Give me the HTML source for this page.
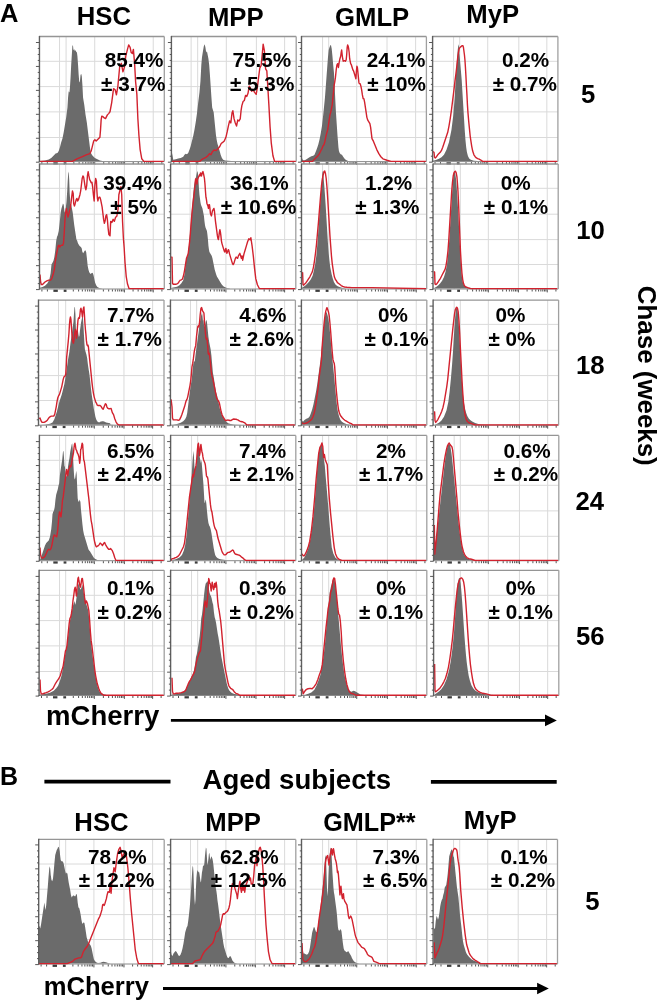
<!DOCTYPE html><html><head><meta charset="utf-8"><style>html,body{margin:0;padding:0;background:#fff;}svg{display:block;will-change:transform;}text{font-family:"Liberation Sans",sans-serif;font-weight:bold;fill:#000;}</style></head><body>
<svg width="660" height="1001" viewBox="0 0 660 1001">
<rect width="660" height="1001" fill="#fff"/>
<defs>
<clipPath id="c0"><rect x="39.45" y="36.50" width="124.85" height="125.70"/></clipPath>
<clipPath id="c1"><rect x="171.40" y="36.50" width="124.80" height="125.70"/></clipPath>
<clipPath id="c2"><rect x="301.50" y="36.50" width="124.90" height="125.70"/></clipPath>
<clipPath id="c3"><rect x="432.60" y="36.50" width="125.30" height="125.70"/></clipPath>
<clipPath id="c4"><rect x="39.50" y="164.00" width="124.80" height="125.60"/></clipPath>
<clipPath id="c5"><rect x="170.60" y="164.00" width="125.20" height="125.60"/></clipPath>
<clipPath id="c6"><rect x="301.50" y="164.00" width="125.20" height="125.60"/></clipPath>
<clipPath id="c7"><rect x="433.00" y="164.00" width="125.20" height="125.60"/></clipPath>
<clipPath id="c8"><rect x="38.50" y="300.10" width="125.50" height="125.70"/></clipPath>
<clipPath id="c9"><rect x="170.45" y="300.10" width="124.95" height="125.70"/></clipPath>
<clipPath id="c10"><rect x="301.40" y="300.10" width="125.40" height="125.70"/></clipPath>
<clipPath id="c11"><rect x="433.10" y="300.10" width="125.50" height="125.70"/></clipPath>
<clipPath id="c12"><rect x="39.40" y="435.40" width="124.80" height="125.90"/></clipPath>
<clipPath id="c13"><rect x="170.60" y="435.40" width="125.20" height="125.90"/></clipPath>
<clipPath id="c14"><rect x="301.50" y="435.40" width="125.30" height="125.90"/></clipPath>
<clipPath id="c15"><rect x="433.60" y="435.40" width="125.20" height="125.90"/></clipPath>
<clipPath id="c16"><rect x="39.10" y="570.30" width="125.10" height="125.80"/></clipPath>
<clipPath id="c17"><rect x="170.60" y="570.30" width="125.20" height="125.80"/></clipPath>
<clipPath id="c18"><rect x="301.50" y="570.30" width="125.30" height="125.80"/></clipPath>
<clipPath id="c19"><rect x="433.60" y="570.30" width="125.20" height="125.80"/></clipPath>
<clipPath id="c20"><rect x="38.70" y="839.40" width="125.50" height="125.20"/></clipPath>
<clipPath id="c21"><rect x="170.60" y="839.40" width="125.20" height="125.20"/></clipPath>
<clipPath id="c22"><rect x="301.50" y="839.40" width="125.30" height="125.20"/></clipPath>
<clipPath id="c23"><rect x="433.10" y="839.40" width="124.40" height="125.20"/></clipPath>
</defs>
<path d="M59.55 36.50V161.60M66.09 36.50V161.60M94.73 36.50V161.60M124.59 36.50V161.60M153.23 36.50V161.60M39.45 61.30H164.30M39.45 86.60H164.30M39.45 111.90H164.30M39.45 137.50H164.30" stroke="#dadada" stroke-width="1" fill="none"/>
<path d="M39.50 161.20L39.50 161.20L40.00 161.03L44.99 160.41L48.73 159.54L51.23 157.91L53.73 155.42L55.60 153.55L57.47 152.92L58.72 151.05L59.96 147.31L61.21 142.32L62.46 138.57L63.71 132.34L64.96 124.85L66.20 117.36L67.45 107.38L68.07 97.40L68.70 91.16L69.45 92.41L69.95 87.42L70.57 77.43L71.19 64.96L71.82 54.97L72.44 44.99L73.07 46.24L73.44 49.98L74.31 49.36L74.94 51.23L75.56 49.98L76.19 51.85L76.93 52.48L77.43 56.22L78.06 64.96L78.68 74.94L79.30 82.42L79.93 81.18L80.55 74.94L81.18 73.69L81.80 76.19L82.42 84.92L83.05 97.40L83.67 101.14L84.30 104.88L84.92 109.88L85.54 114.87L86.17 118.61L86.79 122.35L87.42 127.34L88.04 132.34L88.66 137.33L89.29 142.32L89.91 147.31L90.53 151.05L91.16 153.55L92.41 155.42L94.90 157.91L97.40 159.16L99.89 160.41L102.39 161.03L104.55 161.20L104.55 161.20Z" fill="#6b6b6b" clip-path="url(#c0)"/>
<path d="M38.75 161.60H164.30" stroke="#8a8a8a" stroke-width="1"/>
<path d="M39.50 161.40L40.00 161.40L68.70 161.40L72.44 161.40L77.43 158.54L82.42 156.67L86.17 154.80L89.91 153.55L91.16 151.05L92.41 146.06L93.65 141.07L94.90 139.82L96.15 141.07L97.40 139.82L98.65 138.57L99.89 137.33L100.52 129.84L101.14 119.86L101.76 116.11L103.01 116.74L104.26 117.99L105.51 118.61L106.13 117.36L107.38 114.87L108.63 113.62L110.00 111.75L111.70 102.55L113.55 88.64L115.18 89.86L116.41 94.77L117.84 86.59L119.68 66.75L121.32 63.27L122.95 71.86L124.39 67.36L125.82 55.91L127.45 49.36L128.68 44.86L130.11 47.32L131.14 52.43L132.36 53.45L133.39 49.36L134.61 63.68L135.64 82.09L136.86 94.36L137.89 118.91L138.91 135.27L140.14 149.59L141.77 158.80L143.82 161.40L164.27 161.40" fill="none" stroke="#d2222e" stroke-width="1.4" stroke-linejoin="round" clip-path="url(#c0)"/>
<path d="M39.45 36.50H164.30" stroke="#959595" stroke-width="1.3"/>
<path d="M164.30 36.50V161.60" stroke="#a0a0a0" stroke-width="1.3"/>
<path d="M39.45 35.90V162.00" stroke="#5f5f5f" stroke-width="1.4"/>
<path d="M35.95 162.20H39.45M37.75 156.21H39.45M37.75 150.23H39.45M37.75 144.24H39.45M35.95 138.26H39.45M37.75 132.27H39.45M37.75 126.29H39.45M37.75 120.30H39.45M35.95 114.32H39.45M37.75 108.33H39.45M37.75 102.35H39.45M37.75 96.36H39.45M35.95 90.38H39.45M37.75 84.39H39.45M37.75 78.41H39.45M37.75 72.42H39.45M35.95 66.44H39.45M37.75 60.45H39.45M37.75 54.47H39.45M37.75 48.48H39.45M35.95 42.50H39.45" stroke="#505050" stroke-width="0.95"/>
<path d="M41.85 162.10V164.10M47.35 162.10V164.10M73.85 162.10V164.10M79.11 162.10V164.10M82.84 162.10V164.10M85.74 162.10V164.10M88.10 162.10V164.10M90.10 162.10V164.10M91.83 162.10V164.10M93.36 162.10V164.10M103.72 162.10V164.10M108.98 162.10V164.10M112.71 162.10V164.10M115.60 162.10V164.10M117.97 162.10V164.10M119.96 162.10V164.10M121.70 162.10V164.10M123.22 162.10V164.10M133.21 162.10V164.10M138.25 162.10V164.10M141.83 162.10V164.10M144.61 162.10V164.10M146.87 162.10V164.10M148.79 162.10V164.10M150.45 162.10V164.10M151.92 162.10V164.10M161.85 162.10V164.10M94.73 162.10V165.00M124.59 162.10V165.00M153.23 162.10V165.00" stroke="#333" stroke-width="0.85"/>
<rect x="53.35" y="162.30" width="4.40" height="2.2" fill="#1a1a1a" opacity="0.85"/><rect x="63.65" y="162.30" width="2.80" height="2.2" fill="#1a1a1a" opacity="0.85"/>
<text x="104.81" y="66.75" font-size="20.7" >85.4%</text>
<text x="101.10" y="90.68" font-size="20.7" >± 3.7%</text>
<path d="M191.14 36.50V161.60M197.68 36.50V161.60M226.32 36.50V161.60M256.39 36.50V161.60M284.61 36.50V161.60M171.40 61.30H296.20M171.40 86.60H296.20M171.40 111.90H296.20M171.40 137.50H296.20" stroke="#dadada" stroke-width="1" fill="none"/>
<path d="M171.50 161.20L171.50 157.77L172.00 152.92L172.62 156.04L173.25 159.79L175.74 159.16L178.24 158.54L180.73 157.91L183.23 156.67L184.48 154.80L185.73 153.80L186.97 154.17L188.22 152.92L189.47 149.80L190.72 146.06L191.96 141.07L193.21 136.08L194.46 129.84L195.71 122.35L196.96 113.62L198.20 102.39L199.45 92.41L200.45 81.18L201.32 64.96L201.95 57.47L202.94 51.23L203.82 46.24L204.69 44.37L205.44 47.49L206.19 52.48L206.94 51.23L207.69 54.97L208.43 58.72L209.18 64.96L209.93 74.94L210.68 86.17L211.43 97.40L212.18 107.38L212.93 109.88L213.68 112.37L214.42 119.86L215.17 127.34L215.92 134.83L216.67 139.82L217.42 143.57L218.17 146.06L218.92 148.56L219.66 151.05L220.66 154.80L221.91 157.91L223.16 159.79L225.03 160.41L228.15 160.78L234.39 161.20L234.39 161.20Z" fill="#6b6b6b" clip-path="url(#c1)"/>
<path d="M170.70 161.60H296.20" stroke="#8a8a8a" stroke-width="1"/>
<path d="M171.50 161.40L199.73 161.40L202.80 158.80L205.86 157.36L207.91 155.73L209.55 153.68L210.98 154.70L212.41 151.64L214.05 150.00L216.09 150.61L218.14 148.57L219.77 146.52L221.20 143.45L222.64 142.43L224.27 141.00L225.91 137.32L227.34 131.18L228.36 126.07L229.59 120.95L230.82 123.00L232.05 112.77L232.86 110.73L234.09 118.91L235.32 123.00L236.55 126.07L237.77 119.93L239.00 120.95L240.23 118.91L241.05 110.73L241.86 105.61L243.09 101.52L244.32 100.50L245.55 95.39L246.77 96.41L248.00 93.34L249.23 86.18L250.45 88.23L251.68 91.30L252.91 89.25L254.55 92.32L256.18 94.36L257.41 87.20L258.64 76.98L259.86 67.77L261.09 65.73L262.32 53.45L263.14 44.25L264.36 50.39L265.59 68.80L266.82 70.84L267.64 84.14L268.86 104.59L270.09 127.09L271.32 143.45L272.95 155.73L274.59 161.40L277.45 161.40L296.27 161.40" fill="none" stroke="#d2222e" stroke-width="1.4" stroke-linejoin="round" clip-path="url(#c1)"/>
<path d="M171.40 36.50H296.20" stroke="#959595" stroke-width="1.3"/>
<path d="M296.20 36.50V161.60" stroke="#a0a0a0" stroke-width="1.3"/>
<path d="M171.40 35.90V162.00" stroke="#5f5f5f" stroke-width="1.4"/>
<path d="M167.90 162.20H171.40M169.70 156.21H171.40M169.70 150.23H171.40M169.70 144.24H171.40M167.90 138.26H171.40M169.70 132.27H171.40M169.70 126.29H171.40M169.70 120.30H171.40M167.90 114.32H171.40M169.70 108.33H171.40M169.70 102.35H171.40M169.70 96.36H171.40M167.90 90.38H171.40M169.70 84.39H171.40M169.70 78.41H171.40M169.70 72.42H171.40M167.90 66.44H171.40M169.70 60.45H171.40M169.70 54.47H171.40M169.70 48.48H171.40M167.90 42.50H171.40" stroke="#505050" stroke-width="0.95"/>
<path d="M173.80 162.10V164.10M179.30 162.10V164.10M205.30 162.10V164.10M210.60 162.10V164.10M214.35 162.10V164.10M217.27 162.10V164.10M219.65 162.10V164.10M221.66 162.10V164.10M223.40 162.10V164.10M224.94 162.10V164.10M235.37 162.10V164.10M240.66 162.10V164.10M244.42 162.10V164.10M247.33 162.10V164.10M249.72 162.10V164.10M251.73 162.10V164.10M253.47 162.10V164.10M255.01 162.10V164.10M264.88 162.10V164.10M269.85 162.10V164.10M273.38 162.10V164.10M276.12 162.10V164.10M278.35 162.10V164.10M280.24 162.10V164.10M281.88 162.10V164.10M283.32 162.10V164.10M293.11 162.10V164.10M226.32 162.10V165.00M256.39 162.10V165.00M284.61 162.10V165.00" stroke="#333" stroke-width="0.85"/>
<rect x="185.30" y="162.30" width="4.40" height="2.2" fill="#1a1a1a" opacity="0.85"/><rect x="195.60" y="162.30" width="2.80" height="2.2" fill="#1a1a1a" opacity="0.85"/>
<text x="232.62" y="66.75" font-size="20.7" >75.5%</text>
<text x="230.03" y="90.68" font-size="20.7" >± 5.3%</text>
<path d="M322.57 36.50V161.60M328.70 36.50V161.60M356.73 36.50V161.60M387.00 36.50V161.60M415.64 36.50V161.60M301.50 61.30H426.40M301.50 86.60H426.40M301.50 111.90H426.40M301.50 137.50H426.40" stroke="#dadada" stroke-width="1" fill="none"/>
<path d="M301.50 161.20L301.50 158.80L302.00 157.91L302.62 159.79L303.87 160.41L305.74 159.79L307.61 158.54L309.49 157.29L311.36 156.29L313.23 155.79L314.48 154.80L315.73 151.68L316.97 148.56L318.22 144.81L319.47 139.82L320.72 133.58L321.96 126.10L322.96 117.36L323.96 107.38L324.96 97.40L325.71 87.42L326.46 77.43L327.20 67.45L327.95 57.47L328.70 49.98L329.45 47.49L330.20 45.61L330.95 44.99L331.70 48.73L332.45 56.22L333.19 64.96L333.94 72.44L334.44 81.18L334.94 92.41L335.44 102.39L335.94 112.37L336.44 119.86L336.94 127.34L337.44 134.83L337.94 141.07L338.43 147.31L338.93 151.05L339.68 152.92L340.68 154.17L341.93 154.80L343.18 156.67L344.42 158.54L345.67 159.79L347.54 160.78L349.42 161.20L351.91 161.20L356.32 161.20L356.32 161.20Z" fill="#6b6b6b" clip-path="url(#c2)"/>
<path d="M300.80 161.60H426.40" stroke="#8a8a8a" stroke-width="1"/>
<path d="M301.50 161.40L302.00 161.40L304.50 161.40L306.99 161.40L308.86 161.40L310.73 161.40L312.61 161.40L314.48 159.16L315.73 157.91L316.97 156.67L318.22 155.42L319.47 153.55L320.72 151.05L321.96 148.56L322.96 146.06L323.96 144.81L324.71 142.32L325.46 138.57L326.21 134.83L326.96 132.34L327.70 129.84L328.45 124.85L329.20 119.86L329.95 114.87L330.70 112.37L331.45 108.63L332.20 104.88L332.94 97.40L333.69 89.91L334.19 84.92L334.69 82.42L335.44 77.43L336.19 69.95L336.94 64.96L337.69 63.71L338.43 67.45L339.18 62.46L339.93 58.72L340.68 56.22L341.18 52.48L341.68 49.98L342.18 54.97L342.68 58.72L343.18 61.21L343.93 60.59L344.67 60.59L345.42 61.21L346.17 59.96L346.67 54.97L347.17 47.49L347.67 44.99L348.17 46.24L348.67 48.73L349.17 52.48L349.66 58.72L350.16 61.21L350.66 63.71L351.41 64.96L352.16 67.45L352.91 69.95L353.66 71.19L354.41 73.69L355.16 76.19L355.90 78.68L356.40 71.19L356.90 66.20L357.40 67.45L357.90 72.44L358.40 77.43L358.90 82.42L359.40 83.67L360.15 83.67L360.89 86.17L361.64 89.91L362.39 94.90L363.14 98.65L363.89 98.65L364.64 102.39L365.39 107.38L366.14 112.37L366.88 117.36L367.63 119.86L368.38 121.11L369.13 122.35L369.88 123.60L370.63 127.34L371.38 133.58L372.00 138.57L373.50 141.41L374.73 144.48L376.77 149.59L378.82 153.68L380.86 156.75L382.91 158.80L387.00 160.23L391.09 161.40L399.27 161.40L426.27 161.40" fill="none" stroke="#d2222e" stroke-width="1.4" stroke-linejoin="round" clip-path="url(#c2)"/>
<path d="M301.50 36.50H426.40" stroke="#959595" stroke-width="1.3"/>
<path d="M426.40 36.50V161.60" stroke="#a0a0a0" stroke-width="1.3"/>
<path d="M301.50 35.90V162.00" stroke="#5f5f5f" stroke-width="1.4"/>
<path d="M298.00 162.20H301.50M299.80 156.21H301.50M299.80 150.23H301.50M299.80 144.24H301.50M298.00 138.26H301.50M299.80 132.27H301.50M299.80 126.29H301.50M299.80 120.30H301.50M298.00 114.32H301.50M299.80 108.33H301.50M299.80 102.35H301.50M299.80 96.36H301.50M298.00 90.38H301.50M299.80 84.39H301.50M299.80 78.41H301.50M299.80 72.42H301.50M298.00 66.44H301.50M299.80 60.45H301.50M299.80 54.47H301.50M299.80 48.48H301.50M298.00 42.50H301.50" stroke="#505050" stroke-width="0.95"/>
<path d="M303.90 162.10V164.10M309.40 162.10V164.10M335.57 162.10V164.10M340.90 162.10V164.10M344.68 162.10V164.10M347.61 162.10V164.10M350.01 162.10V164.10M352.04 162.10V164.10M353.79 162.10V164.10M355.34 162.10V164.10M365.84 162.10V164.10M371.17 162.10V164.10M374.95 162.10V164.10M377.89 162.10V164.10M380.28 162.10V164.10M382.31 162.10V164.10M384.07 162.10V164.10M385.61 162.10V164.10M395.62 162.10V164.10M400.66 162.10V164.10M404.24 162.10V164.10M407.02 162.10V164.10M409.28 162.10V164.10M411.20 162.10V164.10M412.86 162.10V164.10M414.33 162.10V164.10M424.26 162.10V164.10M356.73 162.10V165.00M387.00 162.10V165.00M415.64 162.10V165.00" stroke="#333" stroke-width="0.85"/>
<rect x="315.40" y="162.30" width="4.40" height="2.2" fill="#1a1a1a" opacity="0.85"/><rect x="325.70" y="162.30" width="2.80" height="2.2" fill="#1a1a1a" opacity="0.85"/>
<text x="366.81" y="66.75" font-size="20.7" >24.1%</text>
<text x="367.32" y="90.68" font-size="20.7" >± 10%</text>
<path d="M453.57 36.50V161.60M459.70 36.50V161.60M487.73 36.50V161.60M518.82 36.50V161.60M546.84 36.50V161.60M432.60 61.30H557.90M432.60 86.60H557.90M432.60 111.90H557.90M432.60 137.50H557.90" stroke="#dadada" stroke-width="1" fill="none"/>
<path d="M432.50 161.20L432.50 160.84L434.00 160.41L436.50 159.79L438.99 158.79L441.49 157.29L443.98 154.80L446.48 149.80L448.97 142.32L451.47 129.84L453.34 114.87L454.59 98.65L455.46 83.67L456.21 71.19L456.96 59.96L457.71 49.98L458.46 44.37L458.96 46.24L459.45 53.73L460.20 62.46L460.95 71.19L461.70 79.93L462.45 92.41L463.20 104.88L463.95 117.36L464.70 129.84L465.44 139.82L466.19 147.31L466.94 152.30L467.94 156.04L469.19 158.54L470.81 159.79L473.93 160.78L477.67 161.03L477.67 161.20Z" fill="#6b6b6b" clip-path="url(#c3)"/>
<path d="M431.90 161.60H557.90" stroke="#8a8a8a" stroke-width="1"/>
<path d="M432.91 151.64L434.00 152.30L434.50 157.29L435.25 157.91L436.50 156.67L437.74 154.80L438.99 153.55L440.24 152.30L441.49 150.43L442.73 147.31L443.98 143.57L445.23 139.82L446.48 136.08L447.73 132.34L448.97 126.10L450.22 118.61L451.47 109.88L452.72 99.89L453.96 89.91L454.96 81.18L455.96 73.69L456.96 64.96L457.71 57.47L458.46 52.48L459.20 48.73L459.95 47.49L460.70 46.86L461.45 46.24L462.20 45.61L462.95 45.61L463.45 47.49L463.95 51.23L464.45 54.97L464.94 59.96L465.44 67.45L465.94 76.19L466.44 86.17L466.94 94.90L467.44 104.88L467.94 112.37L468.69 121.11L469.44 128.59L470.19 136.08L470.93 141.07L471.68 146.06L472.68 151.05L473.93 154.80L475.18 156.67L476.42 157.91L477.67 158.54L479.17 159.16L480.79 160.04L482.66 161.40L485.16 161.40L488.90 161.40L504.00 161.40L557.27 161.40" fill="none" stroke="#d2222e" stroke-width="1.4" stroke-linejoin="round" clip-path="url(#c3)"/>
<path d="M432.60 36.50H557.90" stroke="#959595" stroke-width="1.3"/>
<path d="M557.90 36.50V161.60" stroke="#a0a0a0" stroke-width="1.3"/>
<path d="M432.60 35.90V162.00" stroke="#5f5f5f" stroke-width="1.4"/>
<path d="M429.10 162.20H432.60M430.90 156.21H432.60M430.90 150.23H432.60M430.90 144.24H432.60M429.10 138.26H432.60M430.90 132.27H432.60M430.90 126.29H432.60M430.90 120.30H432.60M429.10 114.32H432.60M430.90 108.33H432.60M430.90 102.35H432.60M430.90 96.36H432.60M429.10 90.38H432.60M430.90 84.39H432.60M430.90 78.41H432.60M430.90 72.42H432.60M429.10 66.44H432.60M430.90 60.45H432.60M430.90 54.47H432.60M430.90 48.48H432.60M429.10 42.50H432.60" stroke="#505050" stroke-width="0.95"/>
<path d="M435.00 162.10V164.10M440.50 162.10V164.10M466.00 162.10V164.10M471.47 162.10V164.10M475.35 162.10V164.10M478.37 162.10V164.10M480.83 162.10V164.10M482.91 162.10V164.10M484.71 162.10V164.10M486.30 162.10V164.10M497.09 162.10V164.10M502.56 162.10V164.10M506.45 162.10V164.10M509.46 162.10V164.10M511.92 162.10V164.10M514.00 162.10V164.10M515.81 162.10V164.10M517.40 162.10V164.10M527.25 162.10V164.10M532.19 162.10V164.10M535.69 162.10V164.10M538.41 162.10V164.10M540.62 162.10V164.10M542.50 162.10V164.10M544.13 162.10V164.10M545.56 162.10V164.10M555.28 162.10V164.10M487.73 162.10V165.00M518.82 162.10V165.00M546.84 162.10V165.00" stroke="#333" stroke-width="0.85"/>
<rect x="446.50" y="162.30" width="4.40" height="2.2" fill="#1a1a1a" opacity="0.85"/><rect x="456.80" y="162.30" width="2.80" height="2.2" fill="#1a1a1a" opacity="0.85"/>
<text x="501.97" y="66.75" font-size="20.7" >0.2%</text>
<text x="492.67" y="90.68" font-size="20.7" >± 0.7%</text>
<path d="M59.55 164.00V289.00M65.68 164.00V289.00M94.32 164.00V289.00M124.39 164.00V289.00M153.23 164.00V289.00M39.50 188.30H164.30M39.50 214.20H164.30M39.50 239.60H164.30M39.50 264.50H164.30" stroke="#dadada" stroke-width="1" fill="none"/>
<path d="M39.50 288.60L39.50 288.45L40.00 287.66L42.50 287.03L44.99 285.79L47.49 283.29L49.36 279.55L50.61 273.31L51.48 264.57L52.48 262.70L53.48 260.83L54.35 257.09L55.22 250.85L56.22 240.87L56.97 237.12L57.72 235.25L58.72 230.88L59.71 222.15L60.71 212.17L61.46 208.42L62.21 205.93L62.96 203.43L63.71 204.68L64.46 210.92L65.20 213.42L65.70 208.42L66.45 202.19L67.20 190.96L67.70 180.97L68.20 173.49L68.70 171.61L69.20 179.73L69.70 193.45L70.45 203.43L71.19 204.68L71.94 208.42L72.69 212.17L73.44 218.41L74.19 224.65L74.94 229.64L75.69 234.63L76.43 239.62L77.18 240.87L77.93 243.36L78.68 244.61L79.43 245.86L80.18 246.48L80.93 247.11L81.68 248.35L82.42 252.10L83.17 253.34L83.92 252.10L84.67 250.85L85.42 250.22L86.17 252.10L86.92 258.34L87.66 265.82L88.41 269.57L89.16 272.06L89.91 273.31L90.66 273.93L91.41 273.31L92.16 272.68L92.91 273.31L93.65 275.80L94.40 279.55L95.15 282.67L96.15 285.16L97.40 287.03L99.27 288.03L101.14 288.28L102.50 288.60L102.50 288.60Z" fill="#6b6b6b" clip-path="url(#c4)"/>
<path d="M38.80 289.00H164.30" stroke="#8a8a8a" stroke-width="1"/>
<path d="M40.00 274.56L40.62 282.04L41.25 284.54L42.50 284.54L43.74 283.29L44.99 282.04L46.86 280.80L48.73 280.17L50.61 280.17L51.85 278.30L53.10 274.56L54.35 269.57L55.22 262.08L56.22 255.84L57.22 250.85L58.22 245.86L58.97 245.23L59.71 247.11L60.46 245.86L61.46 245.23L62.71 245.23L63.46 243.36L64.21 233.38L64.96 219.65L65.70 212.17L66.45 208.42L67.20 213.42L67.95 217.16L68.70 214.66L69.45 210.92L70.20 208.42L70.94 203.43L71.69 197.19L72.44 190.96L73.19 193.45L73.69 203.43L74.44 205.93L75.19 203.43L76.19 199.69L76.93 198.44L77.68 200.94L78.43 199.69L79.18 197.19L79.93 194.70L80.68 190.96L81.43 184.72L82.17 178.48L82.92 175.98L83.67 177.23L84.42 182.22L85.17 187.21L85.92 189.71L86.67 185.96L87.42 175.98L88.16 171.61L88.91 175.98L89.66 179.73L90.41 180.97L91.16 182.84L91.91 182.22L92.66 187.21L93.40 194.70L94.15 200.94L94.90 184.72L95.65 178.48L96.40 180.97L96.90 190.96L97.40 198.44L97.90 200.94L98.40 198.44L99.14 197.19L99.89 197.19L100.64 199.69L101.39 203.43L102.14 207.18L102.89 213.42L103.64 219.65L104.39 223.40L105.13 220.90L105.88 215.91L106.63 214.66L107.38 219.65L108.13 228.39L108.88 234.63L110.00 235.88L110.68 221.36L111.91 222.39L113.14 219.32L114.36 221.36L115.59 217.27L116.82 216.25L118.05 209.09L118.86 194.77L120.09 189.66L120.91 186.59L121.73 194.77L122.55 221.36L123.36 237.73L124.18 247.95L125.00 262.27L126.23 276.59L127.45 283.75L129.09 288.80L133.18 288.80L164.27 288.80" fill="none" stroke="#d2222e" stroke-width="1.4" stroke-linejoin="round" clip-path="url(#c4)"/>
<path d="M39.50 164.00H164.30" stroke="#959595" stroke-width="1.3"/>
<path d="M164.30 164.00V289.00" stroke="#a0a0a0" stroke-width="1.3"/>
<path d="M39.50 163.40V289.40" stroke="#5f5f5f" stroke-width="1.4"/>
<path d="M36.00 289.60H39.50M37.80 283.62H39.50M37.80 277.63H39.50M37.80 271.65H39.50M36.00 265.66H39.50M37.80 259.68H39.50M37.80 253.69H39.50M37.80 247.71H39.50M36.00 241.72H39.50M37.80 235.74H39.50M37.80 229.75H39.50M37.80 223.77H39.50M36.00 217.78H39.50M37.80 211.80H39.50M37.80 205.81H39.50M37.80 199.83H39.50M36.00 193.84H39.50M37.80 187.86H39.50M37.80 181.87H39.50M37.80 175.89H39.50M36.00 169.90H39.50" stroke="#505050" stroke-width="0.95"/>
<path d="M41.90 289.50V291.50M47.40 289.50V291.50M73.30 289.50V291.50M78.60 289.50V291.50M82.35 289.50V291.50M85.27 289.50V291.50M87.65 289.50V291.50M89.66 289.50V291.50M91.40 289.50V291.50M92.94 289.50V291.50M103.37 289.50V291.50M108.66 289.50V291.50M112.42 289.50V291.50M115.33 289.50V291.50M117.72 289.50V291.50M119.73 289.50V291.50M121.47 289.50V291.50M123.01 289.50V291.50M133.07 289.50V291.50M138.15 289.50V291.50M141.75 289.50V291.50M144.55 289.50V291.50M146.83 289.50V291.50M148.76 289.50V291.50M150.43 289.50V291.50M151.91 289.50V291.50M161.91 289.50V291.50M94.32 289.50V292.40M124.39 289.50V292.40M153.23 289.50V292.40" stroke="#333" stroke-width="0.85"/>
<rect x="53.40" y="289.70" width="4.40" height="2.2" fill="#1a1a1a" opacity="0.85"/><rect x="63.70" y="289.70" width="2.80" height="2.2" fill="#1a1a1a" opacity="0.85"/>
<text x="103.18" y="190.27" font-size="20.7" >39.4%</text>
<text x="110.30" y="214.20" font-size="20.7" >± 5%</text>
<path d="M190.11 164.00V289.00M196.66 164.00V289.00M225.91 164.00V289.00M255.36 164.00V289.00M284.61 164.00V289.00M170.60 188.30H295.80M170.60 214.20H295.80M170.60 239.60H295.80M170.60 264.50H295.80" stroke="#dadada" stroke-width="1" fill="none"/>
<path d="M171.09 288.60L171.09 288.45L172.00 287.66L174.50 287.28L176.99 286.78L179.49 285.16L181.36 283.29L183.23 280.17L184.48 274.56L185.23 268.32L185.98 260.83L186.72 257.71L187.47 255.84L188.22 252.10L188.97 245.86L189.72 237.12L190.47 228.39L191.22 218.41L191.96 208.42L192.71 199.69L193.46 190.96L194.21 184.72L194.96 180.97L195.71 178.48L196.46 174.73L196.96 172.24L197.45 170.99L197.95 173.49L198.45 179.73L198.95 188.46L199.45 194.70L199.95 198.44L200.45 202.19L200.95 204.68L201.45 205.93L201.95 207.18L202.45 208.42L202.94 210.92L203.44 213.42L203.94 215.91L204.44 220.90L204.94 224.65L205.44 227.14L205.94 228.39L206.44 229.64L206.94 230.88L207.44 234.63L207.94 239.62L208.43 245.86L208.93 249.60L209.43 252.10L210.18 253.34L210.93 254.59L211.68 255.84L212.43 258.34L213.18 262.08L213.93 265.82L214.67 269.57L215.42 272.06L216.17 274.56L216.92 276.43L217.67 277.68L218.42 278.92L219.17 280.17L219.91 281.42L220.66 282.67L221.41 283.91L222.41 285.16L223.66 286.41L225.16 287.28L226.90 287.91L229.40 288.28L230.41 288.60L230.41 288.60Z" fill="#6b6b6b" clip-path="url(#c5)"/>
<path d="M169.90 289.00H295.80" stroke="#8a8a8a" stroke-width="1"/>
<path d="M171.09 257.16L172.00 257.09L172.50 283.29L173.25 284.29L174.50 284.29L175.74 284.29L176.99 283.91L178.24 283.04L179.24 281.42L180.24 280.17L181.48 279.80L182.48 278.92L183.48 275.80L184.48 270.81L185.48 264.57L186.47 258.34L187.47 255.84L188.22 253.34L188.97 247.11L189.72 240.87L190.47 232.13L191.22 222.15L191.96 213.42L192.71 205.93L193.46 199.69L194.21 193.45L194.96 185.96L195.46 179.73L195.96 178.48L196.46 182.22L196.96 184.09L197.45 179.73L197.95 178.48L198.45 177.23L198.95 175.98L199.45 174.73L199.95 175.98L200.45 172.86L200.95 173.49L201.45 175.98L201.95 174.11L202.45 172.24L202.94 171.61L203.44 173.49L203.94 175.98L204.44 178.48L204.94 183.47L205.44 190.96L205.94 197.19L206.44 199.69L206.94 203.43L207.44 204.68L207.94 205.93L208.43 208.42L208.93 204.68L209.43 204.68L209.93 208.42L210.43 213.42L210.93 214.66L211.43 215.91L211.93 213.42L212.43 210.92L213.18 209.67L213.93 208.42L214.42 210.92L214.92 215.91L215.42 220.90L215.92 224.65L216.42 228.39L216.92 232.13L217.42 235.88L217.92 238.37L218.42 239.62L218.92 235.88L219.42 232.13L219.91 229.64L220.41 232.13L220.91 235.88L221.41 240.87L221.91 243.36L222.66 245.86L223.41 248.35L224.16 250.85L224.91 252.10L225.40 249.60L225.90 248.35L226.40 250.85L226.90 253.34L227.40 252.10L227.90 250.85L228.40 249.60L228.90 250.85L229.40 253.34L230.15 255.84L230.89 258.34L231.64 260.83L232.39 263.33L233.14 264.57L233.89 263.33L234.64 260.83L235.39 258.34L236.14 257.09L236.88 257.71L237.63 258.34L238.38 255.84L239.13 254.59L239.88 253.34L240.63 255.84L241.38 258.34L242.00 255.84L242.68 260.23L243.91 254.09L245.14 250.00L246.36 245.91L247.59 241.82L248.82 238.75L250.05 239.77L250.86 237.73L252.09 245.91L253.32 256.14L254.55 268.41L255.77 278.64L257.41 284.77L259.45 288.80L263.14 288.80L295.86 288.80" fill="none" stroke="#d2222e" stroke-width="1.4" stroke-linejoin="round" clip-path="url(#c5)"/>
<path d="M170.60 164.00H295.80" stroke="#959595" stroke-width="1.3"/>
<path d="M295.80 164.00V289.00" stroke="#a0a0a0" stroke-width="1.3"/>
<path d="M170.60 163.40V289.40" stroke="#5f5f5f" stroke-width="1.4"/>
<path d="M167.10 289.60H170.60M168.90 283.62H170.60M168.90 277.63H170.60M168.90 271.65H170.60M167.10 265.66H170.60M168.90 259.68H170.60M168.90 253.69H170.60M168.90 247.71H170.60M167.10 241.72H170.60M168.90 235.74H170.60M168.90 229.75H170.60M168.90 223.77H170.60M167.10 217.78H170.60M168.90 211.80H170.60M168.90 205.81H170.60M168.90 199.83H170.60M167.10 193.84H170.60M168.90 187.86H170.60M168.90 181.87H170.60M168.90 175.89H170.60M167.10 169.90H170.60" stroke="#505050" stroke-width="0.95"/>
<path d="M173.00 289.50V291.50M178.50 289.50V291.50M205.32 289.50V291.50M210.51 289.50V291.50M214.19 289.50V291.50M217.04 289.50V291.50M219.37 289.50V291.50M221.35 289.50V291.50M223.05 289.50V291.50M224.56 289.50V291.50M234.78 289.50V291.50M239.96 289.50V291.50M243.64 289.50V291.50M246.50 289.50V291.50M248.83 289.50V291.50M250.80 289.50V291.50M252.51 289.50V291.50M254.02 289.50V291.50M264.17 289.50V291.50M269.32 289.50V291.50M272.97 289.50V291.50M275.81 289.50V291.50M278.12 289.50V291.50M280.08 289.50V291.50M281.78 289.50V291.50M283.28 289.50V291.50M293.42 289.50V291.50M225.91 289.50V292.40M255.36 289.50V292.40M284.61 289.50V292.40" stroke="#333" stroke-width="0.85"/>
<rect x="184.50" y="289.70" width="4.40" height="2.2" fill="#1a1a1a" opacity="0.85"/><rect x="194.80" y="289.70" width="2.80" height="2.2" fill="#1a1a1a" opacity="0.85"/>
<text x="229.96" y="190.27" font-size="20.7" >36.1%</text>
<text x="220.76" y="213.59" font-size="20.7" >± 10.6%</text>
<path d="M322.57 164.00V289.00M328.70 164.00V289.00M357.34 164.00V289.00M387.41 164.00V289.00M416.25 164.00V289.00M301.50 188.30H426.70M301.50 214.20H426.70M301.50 239.60H426.70M301.50 264.50H426.70" stroke="#dadada" stroke-width="1" fill="none"/>
<path d="M302.00 288.60L302.00 287.66L303.25 287.03L305.12 285.79L306.99 283.91L308.86 282.04L310.73 279.55L312.61 275.80L313.85 270.81L315.10 264.57L316.35 255.84L317.22 245.86L317.97 235.88L318.72 224.65L319.47 213.42L320.22 202.19L320.97 190.96L321.71 180.97L322.46 172.24L322.96 170.99L323.46 175.98L324.21 184.72L324.96 194.70L325.71 205.93L326.46 218.41L327.20 230.88L327.95 243.36L328.70 253.34L329.45 260.83L330.20 267.07L330.95 270.81L331.70 274.56L332.70 278.30L333.94 282.04L335.44 284.54L337.19 286.04L339.43 287.03L341.93 287.66L346.09 288.60L346.09 288.60Z" fill="#6b6b6b" clip-path="url(#c6)"/>
<path d="M300.80 289.00H426.70" stroke="#8a8a8a" stroke-width="1"/>
<path d="M302.11 272.50L302.62 272.68L303.00 284.54L303.75 285.16L304.75 283.91L305.99 282.67L307.24 280.80L308.49 278.92L309.74 277.05L310.98 274.56L312.23 272.06L313.48 267.07L314.48 260.83L315.48 253.34L316.47 244.61L317.47 233.38L318.47 222.15L319.47 209.67L320.47 197.19L321.47 185.96L322.46 178.48L323.21 174.73L323.96 171.61L324.71 170.99L325.46 173.49L326.21 178.48L326.96 187.21L327.70 198.44L328.45 210.92L329.20 223.40L329.95 235.88L330.70 245.86L331.45 255.84L332.20 263.33L332.94 268.32L333.69 273.31L334.44 277.05L335.44 279.55L336.44 280.80L337.44 282.67L338.68 283.54L339.93 284.54L341.18 285.54L342.68 286.41L344.42 287.03L346.92 287.28L351.91 287.66L372.00 287.66L426.27 288.80" fill="none" stroke="#d2222e" stroke-width="1.4" stroke-linejoin="round" clip-path="url(#c6)"/>
<path d="M301.50 164.00H426.70" stroke="#959595" stroke-width="1.3"/>
<path d="M426.70 164.00V289.00" stroke="#a0a0a0" stroke-width="1.3"/>
<path d="M301.50 163.40V289.40" stroke="#5f5f5f" stroke-width="1.4"/>
<path d="M298.00 289.60H301.50M299.80 283.62H301.50M299.80 277.63H301.50M299.80 271.65H301.50M298.00 265.66H301.50M299.80 259.68H301.50M299.80 253.69H301.50M299.80 247.71H301.50M298.00 241.72H301.50M299.80 235.74H301.50M299.80 229.75H301.50M299.80 223.77H301.50M298.00 217.78H301.50M299.80 211.80H301.50M299.80 205.81H301.50M299.80 199.83H301.50M298.00 193.84H301.50M299.80 187.86H301.50M299.80 181.87H301.50M299.80 175.89H301.50M298.00 169.90H301.50" stroke="#505050" stroke-width="0.95"/>
<path d="M303.90 289.50V291.50M309.40 289.50V291.50M336.32 289.50V291.50M341.62 289.50V291.50M345.38 289.50V291.50M348.29 289.50V291.50M350.67 289.50V291.50M352.68 289.50V291.50M354.43 289.50V291.50M355.97 289.50V291.50M366.39 289.50V291.50M371.69 289.50V291.50M375.44 289.50V291.50M378.36 289.50V291.50M380.74 289.50V291.50M382.75 289.50V291.50M384.50 289.50V291.50M386.03 289.50V291.50M396.09 289.50V291.50M401.17 289.50V291.50M404.77 289.50V291.50M407.57 289.50V291.50M409.85 289.50V291.50M411.78 289.50V291.50M413.46 289.50V291.50M414.93 289.50V291.50M424.93 289.50V291.50M357.34 289.50V292.40M387.41 289.50V292.40M416.25 289.50V292.40" stroke="#333" stroke-width="0.85"/>
<rect x="315.40" y="289.70" width="4.40" height="2.2" fill="#1a1a1a" opacity="0.85"/><rect x="325.70" y="289.70" width="2.80" height="2.2" fill="#1a1a1a" opacity="0.85"/>
<text x="364.93" y="190.27" font-size="20.7" >1.2%</text>
<text x="355.22" y="213.59" font-size="20.7" >± 1.3%</text>
<path d="M454.18 164.00V289.00M460.32 164.00V289.00M488.34 164.00V289.00M518.41 164.00V289.00M547.25 164.00V289.00M433.00 188.30H558.20M433.00 214.20H558.20M433.00 239.60H558.20M433.00 264.50H558.20" stroke="#dadada" stroke-width="1" fill="none"/>
<path d="M433.73 288.60L433.73 288.45L434.62 287.66L436.50 286.78L438.37 285.16L440.24 283.29L442.11 280.80L443.98 277.05L445.48 272.06L446.98 264.57L448.22 253.34L449.22 240.87L449.97 228.39L450.72 215.91L451.47 203.43L452.22 190.96L452.97 180.97L453.71 174.73L454.46 171.61L455.21 173.49L455.96 178.48L456.71 187.21L457.46 198.44L458.21 210.92L458.96 225.89L459.70 240.87L460.45 255.84L461.20 268.32L461.95 277.05L462.95 282.67L464.20 285.54L465.94 287.03L468.94 287.66L471.43 288.03L475.05 288.60L475.05 288.60Z" fill="#6b6b6b" clip-path="url(#c7)"/>
<path d="M432.30 289.00H558.20" stroke="#8a8a8a" stroke-width="1"/>
<path d="M433.73 271.48L434.62 272.06L435.00 283.91L435.75 284.54L436.75 283.91L437.99 282.04L439.24 280.17L440.49 278.30L441.74 275.80L442.98 273.31L443.98 271.44L444.98 269.57L445.98 265.82L446.98 259.58L447.98 250.85L448.72 240.87L449.47 228.39L450.22 215.91L450.97 203.43L451.72 190.96L452.47 182.22L453.22 175.98L453.96 172.86L454.71 171.61L455.46 171.24L456.21 172.86L456.96 177.23L457.46 183.47L457.96 190.96L458.46 200.94L458.96 213.42L459.45 225.89L459.95 238.37L460.45 250.85L461.20 263.33L461.95 273.31L462.70 279.55L463.45 283.29L464.45 285.79L465.94 287.03L467.69 287.66L471.43 288.80L504.00 288.80L557.27 288.80" fill="none" stroke="#d2222e" stroke-width="1.4" stroke-linejoin="round" clip-path="url(#c7)"/>
<path d="M433.00 164.00H558.20" stroke="#959595" stroke-width="1.3"/>
<path d="M558.20 164.00V289.00" stroke="#a0a0a0" stroke-width="1.3"/>
<path d="M433.00 163.40V289.40" stroke="#5f5f5f" stroke-width="1.4"/>
<path d="M429.50 289.60H433.00M431.30 283.62H433.00M431.30 277.63H433.00M431.30 271.65H433.00M429.50 265.66H433.00M431.30 259.68H433.00M431.30 253.69H433.00M431.30 247.71H433.00M429.50 241.72H433.00M431.30 235.74H433.00M431.30 229.75H433.00M431.30 223.77H433.00M429.50 217.78H433.00M431.30 211.80H433.00M431.30 205.81H433.00M431.30 199.83H433.00M429.50 193.84H433.00M431.30 187.86H433.00M431.30 181.87H433.00M431.30 175.89H433.00M429.50 169.90H433.00" stroke="#505050" stroke-width="0.95"/>
<path d="M435.40 289.50V291.50M440.90 289.50V291.50M467.32 289.50V291.50M472.62 289.50V291.50M476.38 289.50V291.50M479.29 289.50V291.50M481.67 289.50V291.50M483.68 289.50V291.50M485.43 289.50V291.50M486.97 289.50V291.50M497.39 289.50V291.50M502.69 289.50V291.50M506.44 289.50V291.50M509.36 289.50V291.50M511.74 289.50V291.50M513.75 289.50V291.50M515.50 289.50V291.50M517.03 289.50V291.50M527.09 289.50V291.50M532.17 289.50V291.50M535.77 289.50V291.50M538.57 289.50V291.50M540.85 289.50V291.50M542.78 289.50V291.50M544.46 289.50V291.50M545.93 289.50V291.50M555.93 289.50V291.50M488.34 289.50V292.40M518.41 289.50V292.40M547.25 289.50V292.40" stroke="#333" stroke-width="0.85"/>
<rect x="446.90" y="289.70" width="4.40" height="2.2" fill="#1a1a1a" opacity="0.85"/><rect x="457.20" y="289.70" width="2.80" height="2.2" fill="#1a1a1a" opacity="0.85"/>
<text x="500.84" y="190.27" font-size="20.7" >0%</text>
<text x="483.87" y="213.59" font-size="20.7" >± 0.1%</text>
<path d="M58.52 300.10V425.20M65.68 300.10V425.20M94.32 300.10V425.20M123.98 300.10V425.20M152.61 300.10V425.20M38.50 324.40H164.00M38.50 350.30H164.00M38.50 375.60H164.00M38.50 400.50H164.00" stroke="#dadada" stroke-width="1" fill="none"/>
<path d="M39.09 424.80L39.09 424.45L40.00 424.80L44.99 424.53L49.98 423.66L52.48 422.41L54.35 419.29L55.60 415.55L56.84 411.80L58.09 406.81L59.34 401.82L60.59 398.08L61.84 394.34L63.08 389.34L64.33 384.35L65.58 376.87L66.83 368.13L68.07 359.40L68.95 354.41L69.70 349.42L70.45 343.18L71.19 338.19L71.94 333.19L72.69 326.96L73.44 321.96L73.94 314.48L74.44 307.61L74.94 306.99L75.44 314.48L75.94 329.45L76.43 333.19L76.93 331.95L77.43 328.20L77.93 330.70L78.43 334.44L78.93 336.94L79.43 335.69L79.93 330.70L80.43 326.96L80.93 323.21L81.43 320.72L81.93 318.22L82.42 315.73L82.92 316.97L83.42 324.46L83.92 334.44L84.42 343.18L84.92 349.42L85.67 351.91L86.42 354.41L87.17 358.15L87.91 364.39L88.66 369.38L89.41 374.37L90.16 380.61L90.91 388.10L91.66 394.34L92.41 399.33L93.16 404.32L93.90 409.31L94.65 413.05L95.40 416.80L96.15 419.29L97.15 421.16L98.15 422.04L99.14 422.41L100.14 421.79L101.14 421.54L102.14 421.16L103.14 421.16L104.14 421.54L105.13 422.04L106.13 422.41L107.38 422.78L110.00 423.28L110.68 424.45L114.77 424.80L114.77 424.80Z" fill="#6b6b6b" clip-path="url(#c8)"/>
<path d="M37.80 425.20H164.00" stroke="#8a8a8a" stroke-width="1"/>
<path d="M39.09 418.73L40.00 418.04L40.75 419.91L41.50 421.79L42.50 422.41L43.74 422.41L44.99 422.04L46.24 421.16L47.49 419.91L48.73 418.04L49.98 416.80L51.23 416.17L52.48 416.17L53.73 416.17L54.72 414.30L55.47 410.56L56.22 406.81L56.97 401.82L57.72 398.08L58.72 395.58L59.47 394.34L60.21 391.84L60.96 389.34L61.71 386.85L62.46 383.11L63.21 379.36L63.96 376.87L64.96 376.24L65.70 374.37L66.20 366.88L66.70 356.90L67.45 349.42L68.20 341.93L68.95 333.19L69.45 324.46L69.95 319.47L70.45 316.97L70.94 319.47L71.44 326.96L71.94 334.44L72.44 339.43L72.94 341.93L73.44 343.18L73.94 340.68L74.44 335.69L74.94 331.95L75.44 329.45L75.94 331.95L76.43 338.19L76.93 335.69L77.43 326.96L77.93 320.72L78.43 318.22L78.93 317.60L79.43 318.22L79.93 314.48L80.43 309.49L80.93 308.24L81.43 310.11L81.93 313.23L82.42 316.97L82.92 311.98L83.42 308.24L83.92 306.99L84.42 314.48L84.92 323.21L85.42 329.45L85.92 334.44L86.42 340.68L86.92 344.42L87.42 345.67L87.91 345.05L88.41 346.92L88.91 351.91L89.66 359.40L90.41 366.88L91.16 374.37L91.91 381.86L92.66 388.10L93.40 393.09L94.15 396.83L94.90 399.33L95.65 401.82L96.40 403.07L97.15 404.94L97.90 405.57L98.65 405.57L99.39 405.57L100.14 405.57L100.89 406.19L101.64 407.44L102.39 408.68L103.14 409.31L103.89 407.44L104.63 405.57L105.38 403.69L106.13 404.32L106.88 406.81L107.63 408.06L108.63 408.68L110.00 408.68L111.09 408.50L112.32 412.59L113.55 414.64L114.77 418.73L116.00 421.80L117.23 423.84L118.86 425.00L164.27 425.00" fill="none" stroke="#d2222e" stroke-width="1.4" stroke-linejoin="round" clip-path="url(#c8)"/>
<path d="M38.50 300.10H164.00" stroke="#959595" stroke-width="1.3"/>
<path d="M164.00 300.10V425.20" stroke="#a0a0a0" stroke-width="1.3"/>
<path d="M38.50 299.50V425.60" stroke="#5f5f5f" stroke-width="1.4"/>
<path d="M35.00 425.80H38.50M36.80 419.81H38.50M36.80 413.83H38.50M36.80 407.85H38.50M35.00 401.86H38.50M36.80 395.88H38.50M36.80 389.89H38.50M36.80 383.91H38.50M35.00 377.92H38.50M36.80 371.94H38.50M36.80 365.95H38.50M36.80 359.97H38.50M35.00 353.98H38.50M36.80 348.00H38.50M36.80 342.01H38.50M36.80 336.02H38.50M35.00 330.04H38.50M36.80 324.06H38.50M36.80 318.07H38.50M36.80 312.09H38.50M35.00 306.10H38.50" stroke="#505050" stroke-width="0.95"/>
<path d="M40.90 425.70V427.70M46.40 425.70V427.70M73.59 425.70V427.70M78.81 425.70V427.70M82.52 425.70V427.70M85.39 425.70V427.70M87.74 425.70V427.70M89.72 425.70V427.70M91.44 425.70V427.70M92.96 425.70V427.70M103.25 425.70V427.70M108.47 425.70V427.70M112.17 425.70V427.70M115.05 425.70V427.70M117.40 425.70V427.70M119.38 425.70V427.70M121.10 425.70V427.70M122.62 425.70V427.70M132.60 425.70V427.70M137.64 425.70V427.70M141.22 425.70V427.70M143.99 425.70V427.70M146.26 425.70V427.70M148.18 425.70V427.70M149.84 425.70V427.70M151.30 425.70V427.70M161.23 425.70V427.70M94.32 425.70V428.60M123.98 425.70V428.60M152.61 425.70V428.60" stroke="#333" stroke-width="0.85"/>
<rect x="52.40" y="425.90" width="4.40" height="2.2" fill="#1a1a1a" opacity="0.85"/><rect x="62.70" y="425.90" width="2.80" height="2.2" fill="#1a1a1a" opacity="0.85"/>
<text x="106.92" y="322.18" font-size="20.7" >7.7%</text>
<text x="97.62" y="345.70" font-size="20.7" >± 1.7%</text>
<path d="M190.52 300.10V425.20M196.66 300.10V425.20M225.91 300.10V425.20M255.36 300.10V425.20M284.61 300.10V425.20M170.45 324.40H295.40M170.45 350.30H295.40M170.45 375.60H295.40M170.45 400.50H295.40" stroke="#dadada" stroke-width="1" fill="none"/>
<path d="M171.09 424.80L171.09 424.45L172.00 424.80L176.99 424.03L180.73 422.78L183.23 421.16L185.10 419.29L186.35 416.80L187.22 413.05L187.97 406.81L188.72 400.57L189.47 394.34L190.22 389.34L190.97 384.35L191.71 379.36L192.46 371.88L193.21 364.39L193.96 360.65L194.71 361.89L195.46 355.65L196.21 349.42L196.96 344.42L197.70 338.19L198.45 333.19L199.20 326.96L199.95 321.96L200.70 316.97L201.45 314.48L201.95 311.98L202.45 315.73L202.94 320.72L203.44 319.47L203.94 324.46L204.44 326.96L204.94 325.71L205.44 323.21L205.94 320.72L206.44 320.09L206.94 321.96L207.69 329.45L208.43 336.94L209.18 341.93L209.93 345.67L210.68 349.42L211.43 355.65L212.18 364.39L212.93 373.12L213.68 376.87L214.42 381.86L215.17 386.85L215.92 391.84L216.67 394.34L217.42 396.83L218.17 400.57L218.92 404.32L219.66 408.06L220.41 410.56L221.16 413.05L221.91 414.92L222.91 416.80L223.91 418.67L225.16 420.54L226.65 422.04L228.15 423.28L230.65 424.03L234.39 424.53L242.00 424.80L242.00 424.80Z" fill="#6b6b6b" clip-path="url(#c9)"/>
<path d="M169.75 425.20H295.40" stroke="#8a8a8a" stroke-width="1"/>
<path d="M171.09 399.30L172.00 406.81L172.50 418.04L173.25 419.91L174.50 419.91L175.74 419.91L176.99 419.91L178.24 420.29L179.49 419.91L180.73 417.42L181.98 414.30L183.23 410.56L184.48 406.81L185.48 403.07L186.22 400.57L186.97 399.33L187.72 396.83L188.47 393.09L189.22 389.34L189.97 385.60L190.72 380.61L191.47 373.12L191.96 366.88L192.71 363.14L193.46 358.15L194.21 351.91L194.96 348.17L195.71 345.67L196.46 336.94L197.20 330.70L197.70 326.96L198.45 325.71L198.95 326.96L199.45 323.21L200.20 314.48L200.95 308.24L201.70 307.61L202.45 310.73L203.19 311.98L203.94 313.23L204.44 320.72L204.94 326.96L205.44 333.19L205.94 338.19L206.44 339.43L206.94 338.19L207.69 345.67L208.19 353.16L208.68 354.41L209.18 353.16L209.68 355.65L210.18 360.65L210.68 365.64L211.18 370.63L211.68 374.37L212.18 376.87L212.93 379.36L213.68 383.11L214.42 386.85L215.17 390.59L215.92 394.34L216.67 398.08L217.42 399.33L218.17 400.57L218.92 401.82L219.66 404.32L220.41 408.06L221.16 411.80L221.91 414.30L222.66 416.17L223.41 417.42L224.16 418.67L224.91 419.91L225.90 420.54L226.90 420.29L227.90 419.91L228.90 420.29L229.90 420.54L230.89 420.54L231.89 419.91L232.89 419.29L233.89 419.04L234.89 419.29L235.89 419.29L236.88 419.54L237.88 419.91L238.88 420.54L239.88 421.16L240.88 421.54L242.00 421.79L242.68 421.80L244.73 422.82L246.77 425.00L248.82 425.00L295.45 425.00" fill="none" stroke="#d2222e" stroke-width="1.4" stroke-linejoin="round" clip-path="url(#c9)"/>
<path d="M170.45 300.10H295.40" stroke="#959595" stroke-width="1.3"/>
<path d="M295.40 300.10V425.20" stroke="#a0a0a0" stroke-width="1.3"/>
<path d="M170.45 299.50V425.60" stroke="#5f5f5f" stroke-width="1.4"/>
<path d="M166.95 425.80H170.45M168.75 419.81H170.45M168.75 413.83H170.45M168.75 407.85H170.45M166.95 401.86H170.45M168.75 395.88H170.45M168.75 389.89H170.45M168.75 383.91H170.45M166.95 377.92H170.45M168.75 371.94H170.45M168.75 365.95H170.45M168.75 359.97H170.45M166.95 353.98H170.45M168.75 348.00H170.45M168.75 342.01H170.45M168.75 336.02H170.45M166.95 330.04H170.45M168.75 324.06H170.45M168.75 318.07H170.45M168.75 312.09H170.45M166.95 306.10H170.45" stroke="#505050" stroke-width="0.95"/>
<path d="M172.85 425.70V427.70M178.35 425.70V427.70M205.32 425.70V427.70M210.51 425.70V427.70M214.19 425.70V427.70M217.04 425.70V427.70M219.37 425.70V427.70M221.35 425.70V427.70M223.05 425.70V427.70M224.56 425.70V427.70M234.78 425.70V427.70M239.96 425.70V427.70M243.64 425.70V427.70M246.50 425.70V427.70M248.83 425.70V427.70M250.80 425.70V427.70M252.51 425.70V427.70M254.02 425.70V427.70M264.17 425.70V427.70M269.32 425.70V427.70M272.97 425.70V427.70M275.81 425.70V427.70M278.12 425.70V427.70M280.08 425.70V427.70M281.78 425.70V427.70M283.28 425.70V427.70M293.42 425.70V427.70M225.91 425.70V428.60M255.36 425.70V428.60M284.61 425.70V428.60" stroke="#333" stroke-width="0.85"/>
<rect x="184.35" y="425.90" width="4.40" height="2.2" fill="#1a1a1a" opacity="0.85"/><rect x="194.65" y="425.90" width="2.80" height="2.2" fill="#1a1a1a" opacity="0.85"/>
<text x="239.13" y="322.18" font-size="20.7" >4.6%</text>
<text x="229.62" y="345.70" font-size="20.7" >± 2.6%</text>
<path d="M322.57 300.10V425.20M328.70 300.10V425.20M357.34 300.10V425.20M387.41 300.10V425.20M416.25 300.10V425.20M301.40 324.40H426.80M301.40 350.30H426.80M301.40 375.60H426.80M301.40 400.50H426.80" stroke="#dadada" stroke-width="1" fill="none"/>
<path d="M302.00 424.80L302.00 424.80L302.00 420.54L303.00 421.79L304.50 419.91L306.37 418.67L308.24 418.04L309.74 416.17L310.98 413.05L312.23 409.31L313.48 404.32L314.73 398.08L315.98 391.84L317.22 384.35L318.22 376.87L319.22 369.38L320.22 361.89L321.22 354.41L321.96 345.67L322.71 339.43L323.46 330.70L324.21 321.96L324.96 316.97L325.71 313.23L326.46 311.98L326.96 313.23L327.70 315.73L328.45 319.47L329.20 324.46L329.95 331.95L330.70 339.43L331.45 349.42L332.20 356.90L332.94 364.39L333.69 371.88L334.44 379.36L335.19 388.10L335.94 395.58L336.69 403.07L337.44 409.31L338.19 413.05L339.18 416.80L340.43 419.91L341.93 421.79L343.80 423.03L346.30 424.03L349.42 424.53L354.41 424.80L356.32 424.80L356.32 424.80Z" fill="#6b6b6b" clip-path="url(#c10)"/>
<path d="M300.70 425.20H426.80" stroke="#8a8a8a" stroke-width="1"/>
<path d="M302.00 422.41L303.00 423.66L304.50 423.66L306.37 423.03L308.24 422.04L310.11 420.79L311.73 419.29L312.98 416.80L314.23 413.05L315.23 408.06L316.22 401.82L317.22 394.34L318.22 386.85L319.22 376.87L320.22 369.38L320.97 364.39L321.47 359.40L321.96 349.42L322.71 339.43L323.46 330.70L324.21 321.96L324.96 315.73L325.71 311.36L326.46 308.86L326.96 307.61L327.70 309.49L328.45 311.98L329.20 315.73L329.95 323.21L330.70 331.95L331.45 341.93L332.20 351.91L332.94 359.40L333.69 361.89L334.19 363.14L334.69 366.88L335.19 374.37L335.69 383.11L336.44 391.84L337.19 399.33L337.94 405.57L338.68 410.56L339.43 413.05L340.43 415.55L341.43 416.80L342.43 418.04L343.68 419.29L344.92 420.29L346.42 421.16L347.92 422.04L349.42 423.03L351.29 423.66L353.16 425.00L356.90 425.00L372.00 425.00L426.27 425.00" fill="none" stroke="#d2222e" stroke-width="1.4" stroke-linejoin="round" clip-path="url(#c10)"/>
<path d="M301.40 300.10H426.80" stroke="#959595" stroke-width="1.3"/>
<path d="M426.80 300.10V425.20" stroke="#a0a0a0" stroke-width="1.3"/>
<path d="M301.40 299.50V425.60" stroke="#5f5f5f" stroke-width="1.4"/>
<path d="M297.90 425.80H301.40M299.70 419.81H301.40M299.70 413.83H301.40M299.70 407.85H301.40M297.90 401.86H301.40M299.70 395.88H301.40M299.70 389.89H301.40M299.70 383.91H301.40M297.90 377.92H301.40M299.70 371.94H301.40M299.70 365.95H301.40M299.70 359.97H301.40M297.90 353.98H301.40M299.70 348.00H301.40M299.70 342.01H301.40M299.70 336.02H301.40M297.90 330.04H301.40M299.70 324.06H301.40M299.70 318.07H301.40M299.70 312.09H301.40M297.90 306.10H301.40" stroke="#505050" stroke-width="0.95"/>
<path d="M303.80 425.70V427.70M309.30 425.70V427.70M336.32 425.70V427.70M341.62 425.70V427.70M345.38 425.70V427.70M348.29 425.70V427.70M350.67 425.70V427.70M352.68 425.70V427.70M354.43 425.70V427.70M355.97 425.70V427.70M366.39 425.70V427.70M371.69 425.70V427.70M375.44 425.70V427.70M378.36 425.70V427.70M380.74 425.70V427.70M382.75 425.70V427.70M384.50 425.70V427.70M386.03 425.70V427.70M396.09 425.70V427.70M401.17 425.70V427.70M404.77 425.70V427.70M407.57 425.70V427.70M409.85 425.70V427.70M411.78 425.70V427.70M413.46 425.70V427.70M414.93 425.70V427.70M424.93 425.70V427.70M357.34 425.70V428.60M387.41 425.70V428.60M416.25 425.70V428.60" stroke="#333" stroke-width="0.85"/>
<rect x="315.30" y="425.90" width="4.40" height="2.2" fill="#1a1a1a" opacity="0.85"/><rect x="325.60" y="425.90" width="2.80" height="2.2" fill="#1a1a1a" opacity="0.85"/>
<text x="378.03" y="322.18" font-size="20.7" >0%</text>
<text x="364.43" y="345.70" font-size="20.7" >± 0.1%</text>
<path d="M454.18 300.10V425.20M460.32 300.10V425.20M488.34 300.10V425.20M519.43 300.10V425.20M547.66 300.10V425.20M433.10 324.40H558.60M433.10 350.30H558.60M433.10 375.60H558.60M433.10 400.50H558.60" stroke="#dadada" stroke-width="1" fill="none"/>
<path d="M433.73 424.80L433.73 424.45L434.62 424.80L436.50 424.03L438.99 422.78L441.49 420.54L443.98 416.80L446.48 410.56L448.35 401.82L449.60 391.84L450.84 379.36L452.09 364.39L452.97 351.91L453.71 339.43L454.46 326.96L455.21 316.97L455.96 309.49L456.71 307.61L457.46 309.49L458.21 315.73L458.96 326.96L459.70 339.43L460.45 354.41L461.20 369.38L461.95 381.86L462.70 391.84L463.45 399.33L464.20 404.32L465.19 409.31L466.19 413.05L467.44 416.17L468.94 418.67L470.81 420.54L472.68 421.79L475.18 423.03L478.30 424.03L481.42 424.53L486.41 424.80L486.41 424.80Z" fill="#6b6b6b" clip-path="url(#c11)"/>
<path d="M432.40 425.20H558.60" stroke="#8a8a8a" stroke-width="1"/>
<path d="M434.14 411.57L434.62 411.80L435.00 420.54L435.75 422.41L436.75 421.16L437.99 419.29L439.24 416.80L440.49 414.30L441.74 411.18L442.98 407.44L444.23 401.82L445.48 394.34L446.73 386.85L447.73 379.36L448.72 369.38L449.72 359.40L450.72 349.42L451.72 339.43L452.72 329.45L453.71 320.72L454.46 314.48L455.21 310.11L455.96 308.24L456.71 307.24L457.46 308.24L458.21 311.98L458.96 320.72L459.70 333.19L460.45 349.42L461.20 364.39L461.95 379.36L462.70 391.84L463.45 401.82L464.20 409.31L465.19 415.55L466.19 419.29L467.44 421.54L468.94 422.78L471.43 423.66L475.18 425.00L480.17 425.00L504.00 425.00L558.50 425.00" fill="none" stroke="#d2222e" stroke-width="1.4" stroke-linejoin="round" clip-path="url(#c11)"/>
<path d="M433.10 300.10H558.60" stroke="#959595" stroke-width="1.3"/>
<path d="M558.60 300.10V425.20" stroke="#a0a0a0" stroke-width="1.3"/>
<path d="M433.10 299.50V425.60" stroke="#5f5f5f" stroke-width="1.4"/>
<path d="M429.60 425.80H433.10M431.40 419.81H433.10M431.40 413.83H433.10M431.40 407.85H433.10M429.60 401.86H433.10M431.40 395.88H433.10M431.40 389.89H433.10M431.40 383.91H433.10M429.60 377.92H433.10M431.40 371.94H433.10M431.40 365.95H433.10M431.40 359.97H433.10M429.60 353.98H433.10M431.40 348.00H433.10M431.40 342.01H433.10M431.40 336.02H433.10M429.60 330.04H433.10M431.40 324.06H433.10M431.40 318.07H433.10M431.40 312.09H433.10M429.60 306.10H433.10" stroke="#505050" stroke-width="0.95"/>
<path d="M435.50 425.70V427.70M441.00 425.70V427.70M466.61 425.70V427.70M472.08 425.70V427.70M475.97 425.70V427.70M478.98 425.70V427.70M481.44 425.70V427.70M483.52 425.70V427.70M485.33 425.70V427.70M486.92 425.70V427.70M497.70 425.70V427.70M503.18 425.70V427.70M507.06 425.70V427.70M510.07 425.70V427.70M512.53 425.70V427.70M514.62 425.70V427.70M516.42 425.70V427.70M518.01 425.70V427.70M527.93 425.70V427.70M532.90 425.70V427.70M536.43 425.70V427.70M539.16 425.70V427.70M541.40 425.70V427.70M543.29 425.70V427.70M544.92 425.70V427.70M546.37 425.70V427.70M556.16 425.70V427.70M488.34 425.70V428.60M519.43 425.70V428.60M547.66 425.70V428.60" stroke="#333" stroke-width="0.85"/>
<rect x="447.00" y="425.90" width="4.40" height="2.2" fill="#1a1a1a" opacity="0.85"/><rect x="457.30" y="425.90" width="2.80" height="2.2" fill="#1a1a1a" opacity="0.85"/>
<text x="495.53" y="322.18" font-size="20.7" >0%</text>
<text x="488.47" y="345.70" font-size="20.7" >± 0%</text>
<path d="M59.55 435.40V560.70M65.68 435.40V560.70M94.32 435.40V560.70M124.39 435.40V560.70M152.61 435.40V560.70M39.40 460.30H164.20M39.40 485.30H164.20M39.40 510.90H164.20M39.40 536.30H164.20" stroke="#dadada" stroke-width="1" fill="none"/>
<path d="M39.50 560.30L39.50 559.86L40.00 559.91L41.25 556.79L42.50 553.04L43.74 549.30L44.99 545.56L46.24 543.06L47.49 541.81L48.73 540.57L49.98 536.82L51.23 529.34L51.98 521.85L52.48 514.36L53.23 511.87L53.98 510.62L54.72 506.88L55.47 499.39L56.22 494.40L56.97 491.90L57.72 489.41L58.47 485.66L59.22 483.17L59.96 474.43L60.71 469.44L61.46 464.45L62.21 459.46L62.96 451.97L63.46 450.73L63.96 456.96L64.46 465.70L64.96 466.95L65.70 473.19L66.45 476.93L67.20 474.43L67.95 466.95L68.70 461.96L69.45 458.21L70.20 451.97L70.94 448.23L71.69 444.49L72.19 443.24L72.69 448.23L73.19 459.46L73.69 469.44L74.19 476.93L74.69 479.42L75.19 478.18L75.69 474.43L76.19 470.69L76.68 474.43L77.18 486.91L77.68 498.14L78.18 500.64L78.93 501.88L79.68 499.39L80.43 501.88L80.93 509.37L81.68 516.86L82.42 524.34L83.17 530.58L83.92 534.33L84.67 536.82L85.42 539.32L86.17 541.81L86.92 544.31L87.66 546.80L88.41 549.30L89.16 550.55L89.91 551.17L90.66 552.42L91.41 553.67L92.16 554.91L92.91 556.16L93.65 557.41L94.90 558.66L97.40 559.91L99.89 560.30L99.89 560.30Z" fill="#6b6b6b" clip-path="url(#c12)"/>
<path d="M38.70 560.70H164.20" stroke="#8a8a8a" stroke-width="1"/>
<path d="M40.00 547.43L40.50 554.29L41.25 557.41L42.50 558.03L43.74 557.41L44.99 556.16L46.24 553.67L47.49 550.55L48.73 549.30L49.98 549.92L50.98 548.68L51.85 545.56L52.73 540.57L53.48 536.82L54.22 534.95L54.97 535.57L55.97 536.20L56.72 536.82L57.47 531.83L58.22 524.34L58.72 516.86L59.47 511.87L60.21 513.11L60.96 516.86L61.46 513.11L61.96 506.88L62.46 500.64L63.21 496.89L63.96 490.65L64.71 484.42L65.45 478.18L66.20 471.94L66.70 469.44L67.20 473.19L67.70 475.68L68.20 471.94L68.70 469.44L69.45 468.19L69.95 465.70L70.70 466.95L71.19 465.70L71.94 460.71L72.69 456.96L73.44 453.22L73.94 448.23L74.44 444.49L74.94 443.24L75.44 445.73L75.94 449.48L76.68 450.73L77.43 453.22L78.18 454.47L78.93 456.96L79.68 463.20L80.18 459.46L80.68 449.48L81.18 448.85L81.68 445.73L82.17 443.24L82.67 444.49L83.17 451.97L83.67 459.46L84.42 461.96L85.17 468.19L85.92 474.43L86.67 480.67L87.42 486.91L88.16 493.15L88.91 499.39L89.66 506.88L90.41 514.36L91.16 520.60L91.91 524.34L92.66 529.34L93.40 534.33L94.15 539.32L94.90 543.06L95.65 545.56L96.40 546.80L97.40 546.18L98.40 545.56L99.39 544.31L100.14 543.06L100.89 543.68L101.64 544.31L102.39 545.56L103.14 544.31L103.89 543.06L104.63 542.44L105.38 544.31L106.13 545.56L106.88 546.80L107.63 548.05L108.63 549.30L110.00 549.30L110.68 548.61L112.32 550.66L113.55 553.73L114.77 557.82L116.00 560.50L164.27 560.50" fill="none" stroke="#d2222e" stroke-width="1.4" stroke-linejoin="round" clip-path="url(#c12)"/>
<path d="M39.40 435.40H164.20" stroke="#959595" stroke-width="1.3"/>
<path d="M164.20 435.40V560.70" stroke="#a0a0a0" stroke-width="1.3"/>
<path d="M39.40 434.80V561.10" stroke="#5f5f5f" stroke-width="1.4"/>
<path d="M35.90 561.30H39.40M37.70 555.32H39.40M37.70 549.33H39.40M37.70 543.35H39.40M35.90 537.36H39.40M37.70 531.38H39.40M37.70 525.39H39.40M37.70 519.41H39.40M35.90 513.42H39.40M37.70 507.44H39.40M37.70 501.45H39.40M37.70 495.47H39.40M35.90 489.48H39.40M37.70 483.50H39.40M37.70 477.51H39.40M37.70 471.53H39.40M35.90 465.54H39.40M37.70 459.56H39.40M37.70 453.57H39.40M37.70 447.59H39.40M35.90 441.60H39.40" stroke="#505050" stroke-width="0.95"/>
<path d="M41.80 561.20V563.20M47.30 561.20V563.20M73.30 561.20V563.20M78.60 561.20V563.20M82.35 561.20V563.20M85.27 561.20V563.20M87.65 561.20V563.20M89.66 561.20V563.20M91.40 561.20V563.20M92.94 561.20V563.20M103.37 561.20V563.20M108.66 561.20V563.20M112.42 561.20V563.20M115.33 561.20V563.20M117.72 561.20V563.20M119.73 561.20V563.20M121.47 561.20V563.20M123.01 561.20V563.20M132.88 561.20V563.20M137.85 561.20V563.20M141.38 561.20V563.20M144.12 561.20V563.20M146.35 561.20V563.20M148.24 561.20V563.20M149.88 561.20V563.20M151.32 561.20V563.20M161.11 561.20V563.20M94.32 561.20V564.10M124.39 561.20V564.10M152.61 561.20V564.10" stroke="#333" stroke-width="0.85"/>
<rect x="53.30" y="561.40" width="4.40" height="2.2" fill="#1a1a1a" opacity="0.85"/><rect x="63.60" y="561.40" width="2.80" height="2.2" fill="#1a1a1a" opacity="0.85"/>
<text x="106.92" y="457.59" font-size="20.7" >6.5%</text>
<text x="97.62" y="481.11" font-size="20.7" >± 2.4%</text>
<path d="M191.55 435.40V560.70M197.68 435.40V560.70M225.91 435.40V560.70M255.98 435.40V560.70M284.61 435.40V560.70M170.60 460.30H295.80M170.60 485.30H295.80M170.60 510.90H295.80M170.60 536.30H295.80" stroke="#dadada" stroke-width="1" fill="none"/>
<path d="M171.09 560.30L171.09 560.27L172.00 559.91L175.74 559.28L179.49 557.41L181.98 554.91L183.85 550.55L185.10 545.56L186.35 536.82L187.22 528.09L187.97 519.35L188.72 509.37L189.47 499.39L190.22 489.41L190.97 484.42L191.71 474.43L192.46 461.96L192.96 455.72L193.46 450.73L193.96 456.96L194.46 466.95L194.96 469.44L195.46 468.19L195.96 466.95L196.46 464.45L196.96 456.96L197.45 451.97L197.95 446.98L198.45 444.49L198.95 449.48L199.45 455.72L199.95 458.21L200.45 460.71L200.95 463.20L201.45 459.46L201.95 465.70L202.45 471.94L202.94 478.18L203.44 484.42L203.94 493.15L204.44 501.88L204.94 503.13L205.44 499.39L205.94 500.64L206.44 504.38L206.94 510.62L207.69 518.11L208.43 523.10L209.18 525.59L209.93 526.84L210.68 529.34L211.43 533.08L212.18 538.07L212.93 543.06L213.68 548.05L214.42 551.80L215.17 554.91L216.17 556.79L217.42 558.03L219.42 559.03L221.91 559.53L225.65 559.91L226.32 560.27L226.32 560.30Z" fill="#6b6b6b" clip-path="url(#c13)"/>
<path d="M169.90 560.70H295.80" stroke="#8a8a8a" stroke-width="1"/>
<path d="M171.09 560.50L172.00 558.66L173.25 558.66L174.50 558.03L176.37 557.41L178.24 556.16L179.74 554.29L180.98 551.80L182.23 549.30L183.48 546.80L184.48 543.06L185.48 535.57L186.47 526.84L187.22 519.35L187.97 511.87L188.72 504.38L189.47 496.89L190.22 491.90L190.97 486.91L191.71 481.92L192.46 476.93L192.96 474.43L193.46 476.93L193.96 474.43L194.46 471.94L194.96 469.44L195.46 468.19L195.96 465.70L196.46 461.96L196.96 455.72L197.45 449.48L197.95 444.49L198.45 443.24L198.95 449.48L199.45 455.72L199.95 453.22L200.45 446.98L200.95 444.49L201.45 448.23L201.95 451.97L202.45 453.22L202.94 456.96L203.44 459.46L203.94 460.71L204.44 461.96L204.94 463.20L205.44 465.70L205.94 470.69L206.44 475.68L206.94 476.93L207.44 476.93L207.94 479.42L208.43 484.42L208.93 489.41L209.43 494.40L209.93 499.39L210.43 504.38L210.93 508.12L211.43 510.62L211.93 511.87L212.68 516.86L213.43 521.85L214.17 525.59L214.92 528.09L215.67 529.34L216.42 530.58L217.17 534.33L217.92 538.07L218.67 540.57L219.42 543.06L220.16 545.56L220.91 548.05L221.66 550.55L222.41 552.42L223.16 553.67L224.16 554.91L225.16 554.91L226.15 554.29L227.15 553.04L228.15 552.42L229.15 552.42L230.15 551.80L231.14 551.17L231.89 550.55L232.64 549.92L233.39 550.55L234.14 552.42L234.89 553.67L235.89 554.29L236.88 554.54L238.13 554.91L239.38 555.29L240.63 556.16L242.00 557.41L242.68 557.82L244.32 559.45L245.95 560.50L295.86 560.50" fill="none" stroke="#d2222e" stroke-width="1.4" stroke-linejoin="round" clip-path="url(#c13)"/>
<path d="M170.60 435.40H295.80" stroke="#959595" stroke-width="1.3"/>
<path d="M295.80 435.40V560.70" stroke="#a0a0a0" stroke-width="1.3"/>
<path d="M170.60 434.80V561.10" stroke="#5f5f5f" stroke-width="1.4"/>
<path d="M167.10 561.30H170.60M168.90 555.32H170.60M168.90 549.33H170.60M168.90 543.35H170.60M167.10 537.36H170.60M168.90 531.38H170.60M168.90 525.39H170.60M168.90 519.41H170.60M167.10 513.42H170.60M168.90 507.44H170.60M168.90 501.45H170.60M168.90 495.47H170.60M167.10 489.48H170.60M168.90 483.50H170.60M168.90 477.51H170.60M168.90 471.53H170.60M167.10 465.54H170.60M168.90 459.56H170.60M168.90 453.57H170.60M168.90 447.59H170.60M167.10 441.60H170.60" stroke="#505050" stroke-width="0.95"/>
<path d="M173.00 561.20V563.20M178.50 561.20V563.20M204.89 561.20V563.20M210.19 561.20V563.20M213.94 561.20V563.20M216.86 561.20V563.20M219.24 561.20V563.20M221.25 561.20V563.20M223.00 561.20V563.20M224.53 561.20V563.20M234.96 561.20V563.20M240.26 561.20V563.20M244.01 561.20V563.20M246.93 561.20V563.20M249.31 561.20V563.20M251.32 561.20V563.20M253.06 561.20V563.20M254.60 561.20V563.20M264.60 561.20V563.20M269.64 561.20V563.20M273.22 561.20V563.20M275.99 561.20V563.20M278.26 561.20V563.20M280.18 561.20V563.20M281.84 561.20V563.20M283.30 561.20V563.20M293.23 561.20V563.20M225.91 561.20V564.10M255.98 561.20V564.10M284.61 561.20V564.10" stroke="#333" stroke-width="0.85"/>
<rect x="184.50" y="561.40" width="4.40" height="2.2" fill="#1a1a1a" opacity="0.85"/><rect x="194.80" y="561.40" width="2.80" height="2.2" fill="#1a1a1a" opacity="0.85"/>
<text x="238.92" y="457.59" font-size="20.7" >7.4%</text>
<text x="229.62" y="481.11" font-size="20.7" >± 2.1%</text>
<path d="M322.57 435.40V560.70M328.70 435.40V560.70M356.73 435.40V560.70M387.41 435.40V560.70M416.25 435.40V560.70M301.50 460.30H426.80M301.50 485.30H426.80M301.50 510.90H426.80M301.50 536.30H426.80" stroke="#dadada" stroke-width="1" fill="none"/>
<path d="M302.11 560.30L302.11 559.86L304.16 557.82L306.20 553.73L308.25 548.61L310.30 539.41L312.34 525.09L313.77 512.82L315.00 498.50L316.23 482.14L317.45 465.77L318.68 453.50L319.91 447.36L321.14 444.30L322.36 445.32L323.18 451.45L324.00 459.64L324.82 465.77L325.64 476.00L326.86 490.32L328.09 504.64L329.32 521.00L330.55 535.32L331.77 547.59L333.41 553.73L335.45 557.82L337.91 559.45L342.00 560.27L342.00 560.30Z" fill="#6b6b6b" clip-path="url(#c14)"/>
<path d="M300.80 560.70H426.80" stroke="#8a8a8a" stroke-width="1"/>
<path d="M302.11 553.73L303.14 555.77L304.36 555.77L306.00 552.70L308.05 547.59L309.68 541.45L311.32 531.23L312.95 516.91L314.59 498.50L316.23 478.05L317.45 465.77L318.68 453.50L319.91 447.36L321.14 445.32L321.95 442.86L322.77 446.34L323.59 457.59L324.41 454.52L325.23 459.64L326.05 461.68L327.27 464.75L328.09 480.09L329.32 498.50L330.55 512.82L331.77 525.09L333.00 537.36L334.23 547.59L335.45 553.73L337.09 557.41L339.14 559.45L342.00 560.50L426.27 560.50" fill="none" stroke="#d2222e" stroke-width="1.4" stroke-linejoin="round" clip-path="url(#c14)"/>
<path d="M301.50 435.40H426.80" stroke="#959595" stroke-width="1.3"/>
<path d="M426.80 435.40V560.70" stroke="#a0a0a0" stroke-width="1.3"/>
<path d="M301.50 434.80V561.10" stroke="#5f5f5f" stroke-width="1.4"/>
<path d="M298.00 561.30H301.50M299.80 555.32H301.50M299.80 549.33H301.50M299.80 543.35H301.50M298.00 537.36H301.50M299.80 531.38H301.50M299.80 525.39H301.50M299.80 519.41H301.50M298.00 513.42H301.50M299.80 507.44H301.50M299.80 501.45H301.50M299.80 495.47H301.50M298.00 489.48H301.50M299.80 483.50H301.50M299.80 477.51H301.50M299.80 471.53H301.50M298.00 465.54H301.50M299.80 459.56H301.50M299.80 453.57H301.50M299.80 447.59H301.50M298.00 441.60H301.50" stroke="#505050" stroke-width="0.95"/>
<path d="M303.90 561.20V563.20M309.40 561.20V563.20M335.28 561.20V563.20M340.68 561.20V563.20M344.52 561.20V563.20M347.49 561.20V563.20M349.92 561.20V563.20M351.97 561.20V563.20M353.75 561.20V563.20M355.32 561.20V563.20M365.96 561.20V563.20M371.37 561.20V563.20M375.20 561.20V563.20M378.17 561.20V563.20M380.60 561.20V563.20M382.66 561.20V563.20M384.44 561.20V563.20M386.01 561.20V563.20M396.09 561.20V563.20M401.17 561.20V563.20M404.77 561.20V563.20M407.57 561.20V563.20M409.85 561.20V563.20M411.78 561.20V563.20M413.46 561.20V563.20M414.93 561.20V563.20M424.93 561.20V563.20M356.73 561.20V564.10M387.41 561.20V564.10M416.25 561.20V564.10" stroke="#333" stroke-width="0.85"/>
<rect x="315.40" y="561.40" width="4.40" height="2.2" fill="#1a1a1a" opacity="0.85"/><rect x="325.70" y="561.40" width="2.80" height="2.2" fill="#1a1a1a" opacity="0.85"/>
<text x="376.08" y="457.59" font-size="20.7" >2%</text>
<text x="359.01" y="481.11" font-size="20.7" >± 1.7%</text>
<path d="M454.18 435.40V560.70M460.32 435.40V560.70M488.34 435.40V560.70M519.43 435.40V560.70M547.66 435.40V560.70M433.60 460.30H558.80M433.60 485.30H558.80M433.60 510.90H558.80M433.60 536.30H558.80" stroke="#dadada" stroke-width="1" fill="none"/>
<path d="M434.00 560.30L434.00 559.91L434.00 549.30L435.25 544.31L436.50 535.57L437.74 525.59L438.99 514.36L440.24 503.13L441.49 491.90L442.73 480.67L443.98 469.44L445.23 459.46L446.48 450.73L447.73 445.73L448.97 443.86L449.72 444.49L450.47 446.98L451.47 453.22L452.47 461.96L453.47 471.94L454.46 481.92L455.46 491.90L456.46 501.88L457.46 511.87L458.46 521.85L459.45 530.58L460.45 538.07L461.45 544.31L462.45 549.30L463.45 553.04L464.70 555.54L466.19 557.41L467.94 558.66L470.19 559.28L473.93 559.91L473.93 560.30Z" fill="#6b6b6b" clip-path="url(#c15)"/>
<path d="M432.90 560.70H558.80" stroke="#8a8a8a" stroke-width="1"/>
<path d="M434.37 524.97L434.75 554.29L435.25 549.30L436.25 540.57L437.24 529.34L438.24 516.86L439.24 504.38L440.24 493.15L441.49 483.17L442.73 473.19L443.98 463.20L445.23 455.72L446.48 449.48L447.48 445.73L448.47 443.86L449.22 442.99L449.97 444.49L450.97 445.73L451.97 446.98L452.72 450.73L453.47 458.21L454.21 466.95L454.96 475.68L455.71 484.42L456.46 493.15L457.21 501.88L457.96 511.87L458.71 519.35L459.45 526.84L460.20 533.08L460.95 539.32L461.70 544.31L462.45 548.05L463.45 551.80L464.45 554.29L465.69 556.16L467.19 557.78L468.94 558.66L471.43 559.28L475.18 560.50L504.00 560.50L558.09 560.50" fill="none" stroke="#d2222e" stroke-width="1.4" stroke-linejoin="round" clip-path="url(#c15)"/>
<path d="M433.60 435.40H558.80" stroke="#959595" stroke-width="1.3"/>
<path d="M558.80 435.40V560.70" stroke="#a0a0a0" stroke-width="1.3"/>
<path d="M433.60 434.80V561.10" stroke="#5f5f5f" stroke-width="1.4"/>
<path d="M430.10 561.30H433.60M431.90 555.32H433.60M431.90 549.33H433.60M431.90 543.35H433.60M430.10 537.36H433.60M431.90 531.38H433.60M431.90 525.39H433.60M431.90 519.41H433.60M430.10 513.42H433.60M431.90 507.44H433.60M431.90 501.45H433.60M431.90 495.47H433.60M430.10 489.48H433.60M431.90 483.50H433.60M431.90 477.51H433.60M431.90 471.53H433.60M430.10 465.54H433.60M431.90 459.56H433.60M431.90 453.57H433.60M431.90 447.59H433.60M430.10 441.60H433.60" stroke="#505050" stroke-width="0.95"/>
<path d="M436.00 561.20V563.20M441.50 561.20V563.20M466.61 561.20V563.20M472.08 561.20V563.20M475.97 561.20V563.20M478.98 561.20V563.20M481.44 561.20V563.20M483.52 561.20V563.20M485.33 561.20V563.20M486.92 561.20V563.20M497.70 561.20V563.20M503.18 561.20V563.20M507.06 561.20V563.20M510.07 561.20V563.20M512.53 561.20V563.20M514.62 561.20V563.20M516.42 561.20V563.20M518.01 561.20V563.20M527.93 561.20V563.20M532.90 561.20V563.20M536.43 561.20V563.20M539.16 561.20V563.20M541.40 561.20V563.20M543.29 561.20V563.20M544.92 561.20V563.20M546.37 561.20V563.20M556.16 561.20V563.20M488.34 561.20V564.10M519.43 561.20V564.10M547.66 561.20V564.10" stroke="#333" stroke-width="0.85"/>
<rect x="447.50" y="561.40" width="4.40" height="2.2" fill="#1a1a1a" opacity="0.85"/><rect x="457.80" y="561.40" width="2.80" height="2.2" fill="#1a1a1a" opacity="0.85"/>
<text x="503.50" y="457.59" font-size="20.7" >0.6%</text>
<text x="493.79" y="481.11" font-size="20.7" >± 0.2%</text>
<path d="M59.55 570.30V695.50M65.68 570.30V695.50M94.32 570.30V695.50M124.39 570.30V695.50M152.61 570.30V695.50M39.10 595.30H164.20M39.10 620.60H164.20M39.10 645.90H164.20M39.10 671.50H164.20" stroke="#dadada" stroke-width="1" fill="none"/>
<path d="M39.50 695.10L39.50 695.10L40.00 694.53L44.99 693.91L49.98 692.66L53.73 690.79L56.22 688.29L58.09 685.80L59.96 680.80L61.46 675.81L62.71 669.57L63.96 662.09L64.96 655.85L65.95 650.86L66.95 645.87L67.70 639.63L68.45 633.39L69.20 627.15L69.95 620.91L70.70 617.17L71.44 613.42L72.19 609.68L72.94 605.94L73.69 603.44L74.44 600.95L75.19 604.69L75.94 602.19L76.68 595.96L77.43 589.72L78.18 584.73L78.93 583.48L79.68 587.22L80.43 589.72L81.18 588.47L81.93 585.97L82.42 584.73L83.17 588.47L83.92 593.46L84.67 595.96L85.42 599.70L86.17 603.44L86.92 605.94L87.66 608.43L88.41 610.93L89.16 618.42L89.91 628.40L90.66 638.38L91.41 645.87L92.16 652.11L92.91 658.34L93.65 663.34L94.40 668.33L95.15 673.32L95.90 678.31L96.65 682.05L97.40 685.80L98.40 688.91L99.39 691.41L100.64 693.03L102.39 693.91L104.88 694.53L106.59 695.10L106.59 695.10Z" fill="#6b6b6b" clip-path="url(#c16)"/>
<path d="M38.40 695.50H164.20" stroke="#8a8a8a" stroke-width="1"/>
<path d="M40.00 679.56L40.50 690.79L41.25 693.91L42.50 693.91L44.37 693.28L46.24 692.66L48.11 691.78L49.98 690.79L51.85 689.54L53.10 688.29L54.35 685.80L55.60 683.30L56.84 681.43L58.09 679.56L59.34 677.68L60.21 675.81L60.96 673.32L61.71 670.82L62.46 668.33L63.21 665.83L63.96 660.84L64.71 655.85L65.45 650.86L66.20 649.61L66.95 645.87L67.70 638.38L68.45 630.89L69.20 623.41L69.95 618.42L70.70 617.17L71.44 613.42L72.19 608.43L72.94 600.95L73.69 595.96L74.44 589.72L75.19 587.22L75.94 592.21L76.43 595.96L76.93 589.72L77.43 583.48L77.93 578.49L78.43 577.24L78.93 580.98L79.43 583.48L79.93 585.97L80.43 587.22L80.93 584.73L81.43 580.98L81.93 578.49L82.42 578.49L82.92 582.23L83.42 585.97L83.92 590.96L84.42 595.96L84.92 600.95L85.42 603.44L85.92 602.19L86.42 600.95L86.92 602.19L87.42 603.44L88.16 607.19L88.91 610.93L89.66 620.91L90.41 632.14L91.16 640.88L91.91 645.87L92.66 652.11L93.40 658.34L94.15 664.58L94.90 670.82L95.65 675.81L96.40 679.56L97.15 683.30L97.90 685.80L98.65 688.29L99.64 690.79L100.64 692.66L101.89 693.91L103.64 695.30L106.13 695.30L164.27 695.30" fill="none" stroke="#d2222e" stroke-width="1.4" stroke-linejoin="round" clip-path="url(#c16)"/>
<path d="M39.10 570.30H164.20" stroke="#959595" stroke-width="1.3"/>
<path d="M164.20 570.30V695.50" stroke="#a0a0a0" stroke-width="1.3"/>
<path d="M39.10 569.70V695.90" stroke="#5f5f5f" stroke-width="1.4"/>
<path d="M35.60 696.10H39.10M37.40 690.12H39.10M37.40 684.13H39.10M37.40 678.14H39.10M35.60 672.16H39.10M37.40 666.18H39.10M37.40 660.19H39.10M37.40 654.21H39.10M35.60 648.22H39.10M37.40 642.24H39.10M37.40 636.25H39.10M37.40 630.26H39.10M35.60 624.28H39.10M37.40 618.30H39.10M37.40 612.31H39.10M37.40 606.33H39.10M35.60 600.34H39.10M37.40 594.36H39.10M37.40 588.37H39.10M37.40 582.38H39.10M35.60 576.40H39.10" stroke="#505050" stroke-width="0.95"/>
<path d="M41.50 696.00V698.00M47.00 696.00V698.00M73.30 696.00V698.00M78.60 696.00V698.00M82.35 696.00V698.00M85.27 696.00V698.00M87.65 696.00V698.00M89.66 696.00V698.00M91.40 696.00V698.00M92.94 696.00V698.00M103.37 696.00V698.00M108.66 696.00V698.00M112.42 696.00V698.00M115.33 696.00V698.00M117.72 696.00V698.00M119.73 696.00V698.00M121.47 696.00V698.00M123.01 696.00V698.00M132.88 696.00V698.00M137.85 696.00V698.00M141.38 696.00V698.00M144.12 696.00V698.00M146.35 696.00V698.00M148.24 696.00V698.00M149.88 696.00V698.00M151.32 696.00V698.00M161.11 696.00V698.00M94.32 696.00V698.90M124.39 696.00V698.90M152.61 696.00V698.90" stroke="#333" stroke-width="0.85"/>
<rect x="53.00" y="696.20" width="4.40" height="2.2" fill="#1a1a1a" opacity="0.85"/><rect x="63.30" y="696.20" width="2.80" height="2.2" fill="#1a1a1a" opacity="0.85"/>
<text x="106.92" y="595.25" font-size="20.7" >0.1%</text>
<text x="97.62" y="618.77" font-size="20.7" >± 0.2%</text>
<path d="M191.55 570.30V695.50M197.68 570.30V695.50M225.91 570.30V695.50M255.98 570.30V695.50M284.61 570.30V695.50M170.60 595.30H295.80M170.60 620.60H295.80M170.60 645.90H295.80M170.60 671.50H295.80" stroke="#dadada" stroke-width="1" fill="none"/>
<path d="M171.09 695.10L171.09 695.10L172.00 694.53L176.99 693.91L180.73 693.03L183.23 691.78L185.10 690.16L186.97 687.04L188.84 682.68L190.72 678.31L192.59 674.57L194.21 669.57L195.21 663.34L195.96 657.10L196.71 654.60L197.45 650.86L198.20 645.87L198.95 640.88L199.70 635.88L200.45 628.40L201.20 618.42L201.95 614.67L202.70 608.43L203.44 600.95L204.19 593.46L204.94 587.22L205.69 583.48L206.44 582.85L207.19 580.98L207.94 582.23L208.68 587.22L209.43 592.21L210.18 594.71L210.93 595.96L211.68 598.45L212.43 602.19L213.18 604.69L213.93 612.18L214.67 617.17L215.42 619.66L216.17 623.41L216.92 628.40L217.67 633.39L218.42 637.13L219.17 642.12L219.91 647.11L220.66 652.11L221.41 657.10L222.16 660.84L222.91 664.58L223.66 668.33L224.41 672.07L225.16 675.81L225.90 679.56L226.65 683.30L227.40 685.80L228.15 688.29L229.15 690.16L230.40 691.78L231.89 693.03L234.39 693.91L238.13 694.53L238.13 695.10Z" fill="#6b6b6b" clip-path="url(#c17)"/>
<path d="M169.90 695.50H295.80" stroke="#8a8a8a" stroke-width="1"/>
<path d="M171.50 678.50L172.00 678.31L172.50 691.41L173.25 693.91L174.50 693.91L175.74 693.28L177.61 693.28L179.49 693.03L181.36 692.66L183.23 692.03L184.48 691.41L185.73 690.16L186.97 687.04L188.22 683.92L189.47 681.43L190.72 679.56L191.96 677.06L193.21 674.57L194.46 672.07L195.21 668.33L195.96 664.58L196.71 660.84L197.45 658.34L198.20 655.85L198.95 653.35L199.70 652.11L200.45 650.86L201.20 643.37L201.95 635.88L202.70 628.40L203.44 618.42L204.19 610.93L204.69 603.44L205.19 600.95L205.69 602.19L206.19 605.94L206.69 607.19L207.19 602.19L207.69 595.96L208.19 587.22L208.68 578.49L209.18 579.73L209.68 583.48L210.18 583.48L210.68 587.22L211.18 590.96L211.68 585.97L212.18 582.23L212.68 584.73L213.18 588.47L213.68 589.72L214.17 587.22L214.67 583.48L215.17 587.22L215.67 584.73L216.17 582.23L216.67 585.97L217.17 593.46L217.67 600.95L218.42 607.19L219.17 610.93L219.91 615.92L220.66 620.91L221.41 628.40L222.16 637.13L222.91 645.87L223.66 654.60L224.41 663.34L225.16 668.33L225.90 672.07L226.65 675.81L227.40 679.56L228.15 683.30L228.90 685.80L229.65 687.04L230.65 688.29L231.64 688.91L232.64 689.54L233.64 690.79L234.64 692.28L235.89 693.28L237.51 693.91L240.00 695.30L242.00 695.30L242.68 695.30L295.86 695.30" fill="none" stroke="#d2222e" stroke-width="1.4" stroke-linejoin="round" clip-path="url(#c17)"/>
<path d="M170.60 570.30H295.80" stroke="#959595" stroke-width="1.3"/>
<path d="M295.80 570.30V695.50" stroke="#a0a0a0" stroke-width="1.3"/>
<path d="M170.60 569.70V695.90" stroke="#5f5f5f" stroke-width="1.4"/>
<path d="M167.10 696.10H170.60M168.90 690.12H170.60M168.90 684.13H170.60M168.90 678.14H170.60M167.10 672.16H170.60M168.90 666.18H170.60M168.90 660.19H170.60M168.90 654.21H170.60M167.10 648.22H170.60M168.90 642.24H170.60M168.90 636.25H170.60M168.90 630.26H170.60M167.10 624.28H170.60M168.90 618.30H170.60M168.90 612.31H170.60M168.90 606.33H170.60M167.10 600.34H170.60M168.90 594.36H170.60M168.90 588.37H170.60M168.90 582.38H170.60M167.10 576.40H170.60" stroke="#505050" stroke-width="0.95"/>
<path d="M173.00 696.00V698.00M178.50 696.00V698.00M204.89 696.00V698.00M210.19 696.00V698.00M213.94 696.00V698.00M216.86 696.00V698.00M219.24 696.00V698.00M221.25 696.00V698.00M223.00 696.00V698.00M224.53 696.00V698.00M234.96 696.00V698.00M240.26 696.00V698.00M244.01 696.00V698.00M246.93 696.00V698.00M249.31 696.00V698.00M251.32 696.00V698.00M253.06 696.00V698.00M254.60 696.00V698.00M264.60 696.00V698.00M269.64 696.00V698.00M273.22 696.00V698.00M275.99 696.00V698.00M278.26 696.00V698.00M280.18 696.00V698.00M281.84 696.00V698.00M283.30 696.00V698.00M293.23 696.00V698.00M225.91 696.00V698.90M255.98 696.00V698.90M284.61 696.00V698.90" stroke="#333" stroke-width="0.85"/>
<rect x="184.50" y="696.20" width="4.40" height="2.2" fill="#1a1a1a" opacity="0.85"/><rect x="194.80" y="696.20" width="2.80" height="2.2" fill="#1a1a1a" opacity="0.85"/>
<text x="238.92" y="595.25" font-size="20.7" >0.3%</text>
<text x="229.62" y="618.77" font-size="20.7" >± 0.2%</text>
<path d="M322.57 570.30V695.50M328.70 570.30V695.50M356.73 570.30V695.50M387.41 570.30V695.50M416.25 570.30V695.50M301.50 595.30H426.80M301.50 620.60H426.80M301.50 645.90H426.80M301.50 671.50H426.80" stroke="#dadada" stroke-width="1" fill="none"/>
<path d="M302.11 695.10L302.11 695.10L305.18 694.86L308.25 693.84L311.32 692.41L314.39 689.75L316.43 685.66L318.48 680.55L320.52 674.41L321.95 666.23L323.59 656.00L324.82 645.77L326.05 631.45L327.27 617.14L328.50 604.86L329.73 592.59L330.95 586.45L332.18 582.36L333.41 578.27L334.64 580.32L335.86 588.50L337.09 600.77L338.32 615.09L339.55 629.41L340.77 643.73L342.00 656.00L343.23 666.23L344.45 674.41L345.68 680.55L347.32 686.68L349.36 690.77L351.41 691.80L353.45 690.77L355.09 691.18L357.55 692.82L360.41 694.45L364.50 695.10L364.50 695.10Z" fill="#6b6b6b" clip-path="url(#c18)"/>
<path d="M300.80 695.50H426.80" stroke="#8a8a8a" stroke-width="1"/>
<path d="M302.32 688.73L303.14 693.84L304.36 691.80L306.00 689.75L308.05 688.73L310.09 688.32L312.14 688.73L314.18 686.68L316.23 683.61L317.86 679.52L319.50 674.41L321.14 670.32L322.36 664.18L323.59 651.91L324.82 639.64L326.05 627.36L327.27 617.14L328.09 608.95L328.91 604.86L329.73 600.77L330.55 592.59L331.36 590.55L332.18 586.45L333.00 580.32L333.82 577.86L334.64 578.27L335.45 584.41L336.27 592.59L337.09 600.77L337.91 608.95L338.73 614.07L339.55 615.09L340.36 621.23L341.18 631.45L342.00 645.77L343.23 660.09L344.45 670.32L345.68 678.50L346.91 684.64L348.14 688.73L349.36 691.80L351.00 693.23L353.25 693.84L356.32 695.30L360.41 695.30L426.27 695.30" fill="none" stroke="#d2222e" stroke-width="1.4" stroke-linejoin="round" clip-path="url(#c18)"/>
<path d="M301.50 570.30H426.80" stroke="#959595" stroke-width="1.3"/>
<path d="M426.80 570.30V695.50" stroke="#a0a0a0" stroke-width="1.3"/>
<path d="M301.50 569.70V695.90" stroke="#5f5f5f" stroke-width="1.4"/>
<path d="M298.00 696.10H301.50M299.80 690.12H301.50M299.80 684.13H301.50M299.80 678.14H301.50M298.00 672.16H301.50M299.80 666.18H301.50M299.80 660.19H301.50M299.80 654.21H301.50M298.00 648.22H301.50M299.80 642.24H301.50M299.80 636.25H301.50M299.80 630.26H301.50M298.00 624.28H301.50M299.80 618.30H301.50M299.80 612.31H301.50M299.80 606.33H301.50M298.00 600.34H301.50M299.80 594.36H301.50M299.80 588.37H301.50M299.80 582.38H301.50M298.00 576.40H301.50" stroke="#505050" stroke-width="0.95"/>
<path d="M303.90 696.00V698.00M309.40 696.00V698.00M335.28 696.00V698.00M340.68 696.00V698.00M344.52 696.00V698.00M347.49 696.00V698.00M349.92 696.00V698.00M351.97 696.00V698.00M353.75 696.00V698.00M355.32 696.00V698.00M365.96 696.00V698.00M371.37 696.00V698.00M375.20 696.00V698.00M378.17 696.00V698.00M380.60 696.00V698.00M382.66 696.00V698.00M384.44 696.00V698.00M386.01 696.00V698.00M396.09 696.00V698.00M401.17 696.00V698.00M404.77 696.00V698.00M407.57 696.00V698.00M409.85 696.00V698.00M411.78 696.00V698.00M413.46 696.00V698.00M414.93 696.00V698.00M424.93 696.00V698.00M356.73 696.00V698.90M387.41 696.00V698.90M416.25 696.00V698.90" stroke="#333" stroke-width="0.85"/>
<rect x="315.40" y="696.20" width="4.40" height="2.2" fill="#1a1a1a" opacity="0.85"/><rect x="325.70" y="696.20" width="2.80" height="2.2" fill="#1a1a1a" opacity="0.85"/>
<text x="375.98" y="595.25" font-size="20.7" >0%</text>
<text x="359.01" y="618.77" font-size="20.7" >± 0.1%</text>
<path d="M454.18 570.30V695.50M460.32 570.30V695.50M488.34 570.30V695.50M519.43 570.30V695.50M547.66 570.30V695.50M433.60 595.30H558.80M433.60 620.60H558.80M433.60 645.90H558.80M433.60 671.50H558.80" stroke="#dadada" stroke-width="1" fill="none"/>
<path d="M434.14 695.10L434.14 695.10L434.62 694.53L436.50 693.28L438.99 691.41L441.49 688.91L443.98 685.17L446.48 679.56L448.97 670.82L450.84 660.84L452.47 648.36L453.71 635.88L454.71 623.41L455.46 610.93L456.21 598.45L456.96 589.72L457.71 583.48L458.46 579.73L459.20 577.86L459.95 578.49L460.70 583.48L461.45 592.21L462.20 602.19L462.95 613.42L463.70 624.65L464.45 635.88L465.19 645.87L465.94 654.60L466.69 662.09L467.69 669.57L468.69 675.81L469.94 680.80L471.43 685.17L473.18 688.29L475.18 690.54L477.67 692.03L480.79 693.28L483.91 693.91L488.90 694.53L493.45 695.10L493.45 695.10Z" fill="#6b6b6b" clip-path="url(#c19)"/>
<path d="M432.90 695.50H558.80" stroke="#8a8a8a" stroke-width="1"/>
<path d="M434.62 663.96L435.00 690.79L435.75 691.78L436.99 690.79L438.49 689.54L440.24 687.67L441.99 685.17L443.73 682.05L445.48 678.31L446.98 673.32L448.47 667.08L449.72 659.59L450.97 650.86L452.22 640.88L453.22 630.89L454.21 619.66L455.21 608.43L456.21 598.45L457.21 589.72L458.21 583.48L459.20 580.98L459.95 579.11L460.70 578.24L461.45 577.86L462.20 578.49L462.95 579.73L463.70 582.23L464.45 587.22L465.19 594.71L465.94 604.69L466.69 615.92L467.44 627.15L468.19 638.38L468.94 648.36L469.69 657.10L470.43 664.58L471.43 672.07L472.43 678.31L473.43 683.30L474.68 687.04L476.17 689.54L477.92 691.04L480.17 692.28L482.66 693.28L486.41 693.91L491.40 695.30L504.00 695.30L558.91 695.30" fill="none" stroke="#d2222e" stroke-width="1.4" stroke-linejoin="round" clip-path="url(#c19)"/>
<path d="M433.60 570.30H558.80" stroke="#959595" stroke-width="1.3"/>
<path d="M558.80 570.30V695.50" stroke="#a0a0a0" stroke-width="1.3"/>
<path d="M433.60 569.70V695.90" stroke="#5f5f5f" stroke-width="1.4"/>
<path d="M430.10 696.10H433.60M431.90 690.12H433.60M431.90 684.13H433.60M431.90 678.14H433.60M430.10 672.16H433.60M431.90 666.18H433.60M431.90 660.19H433.60M431.90 654.21H433.60M430.10 648.22H433.60M431.90 642.24H433.60M431.90 636.25H433.60M431.90 630.26H433.60M430.10 624.28H433.60M431.90 618.30H433.60M431.90 612.31H433.60M431.90 606.33H433.60M430.10 600.34H433.60M431.90 594.36H433.60M431.90 588.37H433.60M431.90 582.38H433.60M430.10 576.40H433.60" stroke="#505050" stroke-width="0.95"/>
<path d="M436.00 696.00V698.00M441.50 696.00V698.00M466.61 696.00V698.00M472.08 696.00V698.00M475.97 696.00V698.00M478.98 696.00V698.00M481.44 696.00V698.00M483.52 696.00V698.00M485.33 696.00V698.00M486.92 696.00V698.00M497.70 696.00V698.00M503.18 696.00V698.00M507.06 696.00V698.00M510.07 696.00V698.00M512.53 696.00V698.00M514.62 696.00V698.00M516.42 696.00V698.00M518.01 696.00V698.00M527.93 696.00V698.00M532.90 696.00V698.00M536.43 696.00V698.00M539.16 696.00V698.00M541.40 696.00V698.00M543.29 696.00V698.00M544.92 696.00V698.00M546.37 696.00V698.00M556.16 696.00V698.00M488.34 696.00V698.90M519.43 696.00V698.90M547.66 696.00V698.90" stroke="#333" stroke-width="0.85"/>
<rect x="447.50" y="696.20" width="4.40" height="2.2" fill="#1a1a1a" opacity="0.85"/><rect x="457.80" y="696.20" width="2.80" height="2.2" fill="#1a1a1a" opacity="0.85"/>
<text x="505.45" y="595.25" font-size="20.7" >0%</text>
<text x="488.57" y="618.77" font-size="20.7" >± 0.1%</text>
<path d="M59.55 839.40V964.00M65.68 839.40V964.00M93.91 839.40V964.00M123.98 839.40V964.00M152.61 839.40V964.00M38.70 864.00H164.20M38.70 889.20H164.20M38.70 914.60H164.20M38.70 939.50H164.20" stroke="#dadada" stroke-width="1" fill="none"/>
<path d="M38.62 963.60L38.62 963.60L38.62 927.34L39.50 926.10L40.25 928.59L40.99 924.85L41.74 919.86L42.49 914.87L43.24 909.88L43.99 904.88L44.49 902.39L44.99 907.38L45.49 909.88L46.24 904.88L46.98 896.15L47.73 887.42L48.48 877.43L49.23 868.70L49.73 866.20L50.23 868.70L50.73 874.94L51.48 879.93L52.22 881.18L52.97 878.68L53.72 871.19L54.47 862.46L55.22 854.97L55.97 852.48L56.72 849.98L57.47 848.73L58.21 846.86L58.96 847.49L59.71 851.23L60.21 856.22L60.71 859.96L61.46 861.21L62.21 861.21L62.96 861.84L63.70 863.71L64.45 867.45L65.20 871.19L65.95 873.69L66.70 872.44L67.45 873.69L67.95 877.43L68.70 882.42L69.44 886.17L70.19 889.91L70.94 894.90L71.69 897.40L72.44 896.15L73.19 895.53L73.94 895.53L74.68 896.15L75.43 896.15L76.18 893.65L76.93 894.90L77.68 902.39L78.43 907.38L79.18 908.00L79.93 911.12L80.67 914.87L81.42 919.86L82.17 923.60L82.92 923.60L83.67 922.35L84.42 922.98L85.17 927.34L85.91 932.34L86.66 937.33L87.41 939.82L88.16 942.32L89.16 943.57L90.16 944.81L90.91 946.06L91.65 948.56L92.40 952.30L93.15 956.04L93.90 959.16L94.90 961.03L96.15 962.28L97.89 962.91L100.39 962.66L102.26 962.03L103.51 961.66L104.76 962.03L106.00 962.28L108.00 962.91L110.68 963.60L110.68 963.60Z" fill="#6b6b6b" clip-path="url(#c20)"/>
<path d="M38.00 964.00H164.20" stroke="#8a8a8a" stroke-width="1"/>
<path d="M38.00 963.80L56.72 963.80L62.96 963.80L66.70 963.80L70.44 962.28L72.94 961.03L74.81 959.16L76.68 958.54L78.55 957.91L80.42 957.91L81.67 956.67L82.67 953.55L83.67 951.05L84.67 949.55L85.66 948.31L86.66 947.06L87.66 945.44L88.66 943.57L89.66 941.07L90.66 938.57L91.65 936.08L92.65 933.58L93.65 931.09L94.65 928.59L95.65 926.10L96.65 923.60L97.64 921.11L98.64 918.61L99.64 916.74L100.39 914.87L101.14 912.37L101.89 909.88L102.63 904.88L103.38 904.26L104.13 905.51L104.88 903.64L105.63 901.14L106.38 898.65L107.13 894.90L108.00 891.78L109.45 892.27L110.27 885.11L111.09 893.30L111.91 882.05L112.73 875.91L113.95 867.73L115.18 871.82L116.41 861.59L117.64 853.41L118.86 849.32L120.09 847.27L120.91 850.34L122.14 857.50L122.95 855.45L124.18 853.41L125.41 851.36L126.64 857.50L127.86 867.73L129.09 882.05L130.32 898.41L131.55 912.73L132.77 925.00L134.00 937.27L135.23 949.55L136.86 958.75L138.50 963.80L141.36 963.80L164.27 963.80" fill="none" stroke="#d2222e" stroke-width="1.4" stroke-linejoin="round" clip-path="url(#c20)"/>
<path d="M38.70 839.40H164.20" stroke="#959595" stroke-width="1.3"/>
<path d="M164.20 839.40V964.00" stroke="#a0a0a0" stroke-width="1.3"/>
<path d="M38.70 838.80V964.40" stroke="#5f5f5f" stroke-width="1.4"/>
<path d="M35.20 964.60H38.70M37.00 958.62H38.70M37.00 952.63H38.70M37.00 946.64H38.70M35.20 940.66H38.70M37.00 934.68H38.70M37.00 928.69H38.70M37.00 922.71H38.70M35.20 916.72H38.70M37.00 910.74H38.70M37.00 904.75H38.70M37.00 898.76H38.70M35.20 892.78H38.70M37.00 886.80H38.70M37.00 880.81H38.70M37.00 874.83H38.70M35.20 868.84H38.70M37.00 862.86H38.70M37.00 856.87H38.70M37.00 850.88H38.70M35.20 844.90H38.70" stroke="#505050" stroke-width="0.95"/>
<path d="M41.10 964.50V966.50M46.60 964.50V966.50M72.89 964.50V966.50M78.19 964.50V966.50M81.94 964.50V966.50M84.86 964.50V966.50M87.24 964.50V966.50M89.25 964.50V966.50M91.00 964.50V966.50M92.53 964.50V966.50M102.96 964.50V966.50M108.26 964.50V966.50M112.01 964.50V966.50M114.93 964.50V966.50M117.31 964.50V966.50M119.32 964.50V966.50M121.06 964.50V966.50M122.60 964.50V966.50M132.60 964.50V966.50M137.64 964.50V966.50M141.22 964.50V966.50M143.99 964.50V966.50M146.26 964.50V966.50M148.18 964.50V966.50M149.84 964.50V966.50M151.30 964.50V966.50M161.23 964.50V966.50M93.91 964.50V967.40M123.98 964.50V967.40M152.61 964.50V967.40" stroke="#333" stroke-width="0.85"/>
<rect x="52.60" y="964.70" width="4.40" height="2.2" fill="#1a1a1a" opacity="0.85"/><rect x="62.90" y="964.70" width="2.80" height="2.2" fill="#1a1a1a" opacity="0.85"/>
<text x="88.04" y="863.64" font-size="20.7" >78.2%</text>
<text x="78.73" y="887.16" font-size="20.7" >± 12.2%</text>
<path d="M190.52 839.40V964.00M197.68 839.40V964.00M225.91 839.40V964.00M255.36 839.40V964.00M284.61 839.40V964.00M170.60 864.00H295.80M170.60 889.20H295.80M170.60 914.60H295.80M170.60 939.50H295.80" stroke="#dadada" stroke-width="1" fill="none"/>
<path d="M170.62 963.60L170.62 963.60L170.62 949.80L171.50 954.80L172.50 956.04L173.49 953.55L174.49 952.30L175.49 951.05L176.49 951.68L177.49 953.55L178.48 955.42L179.48 956.04L180.48 954.80L181.48 952.30L182.48 948.56L183.48 943.57L184.47 937.33L185.22 932.34L185.97 929.84L186.72 927.34L187.47 926.10L188.22 921.11L188.97 914.87L189.71 907.38L190.46 898.65L191.21 887.42L191.96 874.94L192.46 867.45L192.96 865.58L193.46 872.44L193.96 887.42L194.46 898.65L194.96 904.88L195.45 899.89L195.95 887.42L196.45 877.43L196.95 872.44L197.45 869.95L197.95 871.19L198.45 872.44L198.95 871.19L199.45 873.69L199.95 877.43L200.45 881.18L200.94 882.42L201.44 877.43L201.94 872.44L202.44 869.95L202.94 866.20L203.44 864.96L203.94 866.20L204.44 862.46L204.94 856.22L205.44 851.23L205.94 847.49L206.43 848.73L206.93 857.47L207.43 864.96L207.93 862.46L208.43 858.72L208.93 853.73L209.43 853.10L209.93 857.47L210.43 859.96L210.93 857.47L211.43 856.22L211.93 857.47L212.42 858.72L212.92 861.21L213.42 864.96L213.92 869.95L214.42 874.94L214.92 879.93L215.42 884.92L215.92 888.66L216.42 891.16L216.92 894.90L217.42 899.89L218.16 904.88L218.91 911.12L219.66 917.36L220.41 923.60L221.16 928.59L221.91 933.58L222.66 938.57L223.40 943.57L224.15 947.31L224.90 949.80L225.65 952.30L226.40 954.80L227.15 956.67L227.90 957.91L228.65 957.91L229.39 956.67L230.14 956.04L230.89 956.67L231.64 958.54L232.39 960.41L233.64 962.03L234.88 962.91L237.38 963.53L240.00 963.60L240.64 963.60L240.64 963.60Z" fill="#6b6b6b" clip-path="url(#c21)"/>
<path d="M169.90 964.00H295.80" stroke="#8a8a8a" stroke-width="1"/>
<path d="M170.00 963.80L182.48 963.80L186.22 963.80L189.96 963.80L192.46 963.80L194.96 961.03L197.45 960.41L199.95 959.79L200.94 958.54L201.94 956.04L202.94 954.17L203.94 952.30L204.94 951.05L206.19 949.80L207.43 948.56L208.68 947.31L209.93 946.06L211.18 944.81L212.42 943.57L213.42 941.69L214.42 938.57L215.17 936.08L215.92 932.34L216.92 931.71L217.91 931.09L218.91 929.22L219.91 927.34L220.66 924.85L221.16 922.35L221.91 918.61L222.66 914.87L223.40 913.62L224.15 914.24L224.90 913.62L225.90 912.37L226.90 911.75L227.90 910.50L228.89 908.00L229.64 904.88L230.39 899.89L231.14 892.41L231.89 886.17L232.39 883.67L233.14 886.17L233.89 884.92L234.63 887.42L235.38 889.91L236.13 892.41L236.88 894.90L237.38 898.65L238.13 892.41L238.88 887.42L239.63 882.42L240.00 881.18L240.64 888.18L241.45 892.27L242.27 886.14L243.09 890.23L243.91 886.14L244.73 892.27L245.55 886.14L246.36 884.09L247.18 882.05L248.00 878.98L248.82 875.91L249.64 880.00L250.45 877.95L251.27 884.09L252.09 884.09L252.91 883.07L253.73 875.91L254.55 865.68L255.36 861.59L256.18 857.50L257.00 865.68L257.82 855.45L258.64 851.36L259.45 848.30L260.27 847.27L261.09 850.34L261.91 857.50L262.73 865.68L263.55 880.00L264.36 896.36L265.18 910.68L266.00 925.00L267.23 939.32L268.45 951.59L270.09 959.77L272.14 963.80L275.41 963.80L295.86 963.80" fill="none" stroke="#d2222e" stroke-width="1.4" stroke-linejoin="round" clip-path="url(#c21)"/>
<path d="M170.60 839.40H295.80" stroke="#959595" stroke-width="1.3"/>
<path d="M295.80 839.40V964.00" stroke="#a0a0a0" stroke-width="1.3"/>
<path d="M170.60 838.80V964.40" stroke="#5f5f5f" stroke-width="1.4"/>
<path d="M167.10 964.60H170.60M168.90 958.62H170.60M168.90 952.63H170.60M168.90 946.64H170.60M167.10 940.66H170.60M168.90 934.68H170.60M168.90 928.69H170.60M168.90 922.71H170.60M167.10 916.72H170.60M168.90 910.74H170.60M168.90 904.75H170.60M168.90 898.76H170.60M167.10 892.78H170.60M168.90 886.80H170.60M168.90 880.81H170.60M168.90 874.83H170.60M167.10 868.84H170.60M168.90 862.86H170.60M168.90 856.87H170.60M168.90 850.88H170.60M167.10 844.90H170.60" stroke="#505050" stroke-width="0.95"/>
<path d="M173.00 964.50V966.50M178.50 964.50V966.50M205.32 964.50V966.50M210.51 964.50V966.50M214.19 964.50V966.50M217.04 964.50V966.50M219.37 964.50V966.50M221.35 964.50V966.50M223.05 964.50V966.50M224.56 964.50V966.50M234.78 964.50V966.50M239.96 964.50V966.50M243.64 964.50V966.50M246.50 964.50V966.50M248.83 964.50V966.50M250.80 964.50V966.50M252.51 964.50V966.50M254.02 964.50V966.50M264.17 964.50V966.50M269.32 964.50V966.50M272.97 964.50V966.50M275.81 964.50V966.50M278.12 964.50V966.50M280.08 964.50V966.50M281.78 964.50V966.50M283.28 964.50V966.50M293.42 964.50V966.50M225.91 964.50V967.40M255.36 964.50V967.40M284.61 964.50V967.40" stroke="#333" stroke-width="0.85"/>
<rect x="184.50" y="964.70" width="4.40" height="2.2" fill="#1a1a1a" opacity="0.85"/><rect x="194.80" y="964.70" width="2.80" height="2.2" fill="#1a1a1a" opacity="0.85"/>
<text x="220.04" y="863.64" font-size="20.7" >62.8%</text>
<text x="210.73" y="887.16" font-size="20.7" >± 12.5%</text>
<path d="M322.57 839.40V964.00M328.70 839.40V964.00M356.73 839.40V964.00M387.41 839.40V964.00M416.25 839.40V964.00M301.50 864.00H426.80M301.50 889.20H426.80M301.50 914.60H426.80M301.50 939.50H426.80" stroke="#dadada" stroke-width="1" fill="none"/>
<path d="M302.00 963.60L302.00 963.60L302.00 942.32L302.75 949.80L303.50 953.55L304.50 953.55L305.74 954.17L306.99 954.80L308.24 953.55L309.24 951.05L309.99 947.31L310.73 942.32L311.48 937.33L312.23 932.34L312.98 929.84L313.73 927.34L314.48 927.34L315.23 929.84L315.98 931.71L316.72 932.34L317.47 929.84L318.22 924.85L318.97 919.86L319.72 913.62L320.47 907.38L321.22 899.89L321.96 892.41L322.71 886.17L323.46 879.93L324.21 869.95L324.96 858.72L325.46 854.97L325.96 857.47L326.46 871.19L326.96 887.42L327.45 896.15L327.95 889.91L328.45 877.43L328.95 867.45L329.45 859.96L329.95 852.48L330.45 848.73L330.95 847.49L331.45 852.48L331.95 862.46L332.45 872.44L332.94 879.93L333.44 887.42L333.94 892.41L334.44 894.90L334.94 898.65L335.44 902.39L335.94 906.13L336.44 909.88L336.94 914.87L337.44 921.11L337.94 927.34L338.43 929.84L339.18 931.09L339.93 929.84L340.68 929.22L341.43 931.09L342.18 937.33L342.93 943.57L343.68 948.56L344.42 950.43L345.17 951.05L345.92 951.68L346.67 952.30L347.42 951.68L348.17 951.05L348.92 952.30L349.66 953.55L350.41 954.80L351.16 956.04L351.91 957.91L352.91 959.79L353.91 961.28L355.16 962.28L356.90 962.91L359.40 963.53L361.89 963.60L362.45 963.60L362.45 963.60Z" fill="#6b6b6b" clip-path="url(#c22)"/>
<path d="M300.80 964.00H426.80" stroke="#8a8a8a" stroke-width="1"/>
<path d="M302.00 942.94L302.75 958.54L303.50 960.41L304.50 961.66L305.74 961.66L306.99 961.03L308.24 959.79L309.49 958.54L310.73 956.04L311.98 953.55L313.23 949.80L314.48 947.31L315.23 944.81L315.98 941.07L316.72 936.08L317.47 931.09L318.22 926.10L318.97 919.86L319.72 914.87L320.47 909.88L321.22 904.88L321.96 899.89L322.71 894.90L323.46 887.42L324.21 877.43L324.96 867.45L325.46 862.46L326.21 858.72L326.96 856.22L327.70 855.60L328.45 861.21L328.95 864.96L329.45 861.21L330.20 854.97L330.95 851.23L331.45 848.73L331.95 853.73L332.45 854.97L332.94 849.98L333.44 848.73L333.94 851.23L334.44 854.97L335.19 858.72L335.94 861.21L336.44 863.71L336.94 867.45L337.44 872.44L337.94 871.19L338.43 874.94L338.93 881.18L339.43 887.42L339.93 894.90L340.43 889.91L340.93 886.17L341.43 891.16L341.93 896.15L342.43 898.65L342.93 894.90L343.43 893.65L343.93 898.65L344.67 901.14L345.42 902.39L346.17 903.64L346.92 904.88L347.67 909.88L348.42 916.11L349.17 918.61L349.91 917.36L350.66 916.11L351.41 917.36L352.16 919.86L352.91 923.60L353.66 927.34L354.41 931.09L355.16 934.83L355.90 937.33L356.90 939.82L357.90 942.32L358.90 943.57L359.90 944.81L360.89 946.06L361.89 947.31L363.14 947.93L364.39 948.56L365.14 949.80L365.89 951.05L366.63 952.30L367.38 954.17L368.38 955.42L369.63 956.04L370.88 956.67L372.00 957.29L373.91 961.41L376.77 962.43L379.84 963.80L382.91 963.80L387.00 963.80L395.18 963.80L426.27 963.80" fill="none" stroke="#d2222e" stroke-width="1.4" stroke-linejoin="round" clip-path="url(#c22)"/>
<path d="M301.50 839.40H426.80" stroke="#959595" stroke-width="1.3"/>
<path d="M426.80 839.40V964.00" stroke="#a0a0a0" stroke-width="1.3"/>
<path d="M301.50 838.80V964.40" stroke="#5f5f5f" stroke-width="1.4"/>
<path d="M298.00 964.60H301.50M299.80 958.62H301.50M299.80 952.63H301.50M299.80 946.64H301.50M298.00 940.66H301.50M299.80 934.68H301.50M299.80 928.69H301.50M299.80 922.71H301.50M298.00 916.72H301.50M299.80 910.74H301.50M299.80 904.75H301.50M299.80 898.76H301.50M298.00 892.78H301.50M299.80 886.80H301.50M299.80 880.81H301.50M299.80 874.83H301.50M298.00 868.84H301.50M299.80 862.86H301.50M299.80 856.87H301.50M299.80 850.88H301.50M298.00 844.90H301.50" stroke="#505050" stroke-width="0.95"/>
<path d="M303.90 964.50V966.50M309.40 964.50V966.50M335.28 964.50V966.50M340.68 964.50V966.50M344.52 964.50V966.50M347.49 964.50V966.50M349.92 964.50V966.50M351.97 964.50V966.50M353.75 964.50V966.50M355.32 964.50V966.50M365.96 964.50V966.50M371.37 964.50V966.50M375.20 964.50V966.50M378.17 964.50V966.50M380.60 964.50V966.50M382.66 964.50V966.50M384.44 964.50V966.50M386.01 964.50V966.50M396.09 964.50V966.50M401.17 964.50V966.50M404.77 964.50V966.50M407.57 964.50V966.50M409.85 964.50V966.50M411.78 964.50V966.50M413.46 964.50V966.50M414.93 964.50V966.50M424.93 964.50V966.50M356.73 964.50V967.40M387.41 964.50V967.40M416.25 964.50V967.40" stroke="#333" stroke-width="0.85"/>
<rect x="315.40" y="964.70" width="4.40" height="2.2" fill="#1a1a1a" opacity="0.85"/><rect x="325.70" y="964.70" width="2.80" height="2.2" fill="#1a1a1a" opacity="0.85"/>
<text x="372.50" y="863.64" font-size="20.7" >7.3%</text>
<text x="363.10" y="887.16" font-size="20.7" >± 6.5%</text>
<path d="M453.57 839.40V964.00M459.70 839.40V964.00M487.73 839.40V964.00M518.20 839.40V964.00M546.64 839.40V964.00M433.10 864.00H557.50M433.10 889.20H557.50M433.10 914.60H557.50M433.10 939.50H557.50" stroke="#dadada" stroke-width="1" fill="none"/>
<path d="M433.73 963.60L433.73 963.60L433.73 927.05L434.55 929.09L435.00 928.59L435.75 921.11L436.50 916.11L437.25 917.36L437.99 919.86L438.74 917.36L439.49 912.37L440.24 906.13L440.99 902.39L441.74 899.89L442.49 898.65L443.24 894.90L443.98 892.41L444.73 887.42L445.48 886.17L446.23 884.92L446.98 879.93L447.73 873.69L448.48 864.96L449.22 856.22L449.97 853.73L450.72 851.23L451.22 849.98L451.72 849.36L452.47 851.23L453.22 856.22L453.97 857.47L454.71 864.96L455.46 872.44L456.21 879.93L456.96 887.42L457.71 892.41L458.46 897.40L459.21 906.13L459.96 914.87L460.70 921.11L461.45 927.34L462.20 934.83L462.95 941.07L463.70 944.81L464.45 947.31L465.20 949.80L465.94 952.30L466.94 954.17L467.94 955.42L468.94 956.67L470.19 957.91L471.43 959.16L472.68 960.04L474.18 960.78L475.68 961.28L477.42 961.66L479.42 962.28L482.42 963.53L484.91 963.60L484.91 963.60Z" fill="#6b6b6b" clip-path="url(#c23)"/>
<path d="M432.40 964.00H557.50" stroke="#8a8a8a" stroke-width="1"/>
<path d="M434.14 942.39L435.00 957.91L435.75 956.04L436.50 954.17L437.25 952.30L437.99 951.05L438.74 949.18L439.49 947.31L440.24 944.81L440.99 942.32L441.74 939.82L442.49 936.08L443.24 931.09L443.98 924.85L444.73 917.36L445.48 909.88L446.23 902.39L446.98 894.90L447.73 887.42L448.48 879.93L449.22 872.44L449.97 864.96L450.72 859.96L451.47 856.22L452.22 853.73L452.97 851.23L453.72 849.36L454.47 848.48L455.21 848.48L455.96 848.98L456.71 849.98L457.21 852.48L457.71 857.47L458.21 861.21L458.71 863.71L459.21 867.45L459.71 873.69L460.20 881.18L460.70 889.91L461.45 898.65L462.20 907.38L462.95 914.87L463.70 922.35L464.45 928.59L465.20 934.83L465.94 939.82L466.69 944.81L467.44 947.31L468.19 949.80L468.94 952.30L469.69 954.17L470.44 955.42L471.43 956.67L472.43 957.91L473.68 959.16L474.93 960.04L476.18 960.78L477.42 961.66L478.67 962.28L479.92 963.80L481.17 963.80L482.42 963.80L484.91 963.80L487.32 963.80L557.27 963.80" fill="none" stroke="#d2222e" stroke-width="1.4" stroke-linejoin="round" clip-path="url(#c23)"/>
<path d="M433.10 839.40H557.50" stroke="#959595" stroke-width="1.3"/>
<path d="M557.50 839.40V964.00" stroke="#a0a0a0" stroke-width="1.3"/>
<path d="M433.10 838.80V964.40" stroke="#5f5f5f" stroke-width="1.4"/>
<path d="M429.60 964.60H433.10M431.40 958.62H433.10M431.40 952.63H433.10M431.40 946.64H433.10M429.60 940.66H433.10M431.40 934.68H433.10M431.40 928.69H433.10M431.40 922.71H433.10M429.60 916.72H433.10M431.40 910.74H433.10M431.40 904.75H433.10M431.40 898.76H433.10M429.60 892.78H433.10M431.40 886.80H433.10M431.40 880.81H433.10M431.40 874.83H433.10M429.60 868.84H433.10M431.40 862.86H433.10M431.40 856.87H433.10M431.40 850.88H433.10M429.60 844.90H433.10" stroke="#505050" stroke-width="0.95"/>
<path d="M435.50 964.50V966.50M441.00 964.50V966.50M466.42 964.50V966.50M471.79 964.50V966.50M475.60 964.50V966.50M478.55 964.50V966.50M480.97 964.50V966.50M483.01 964.50V966.50M484.77 964.50V966.50M486.33 964.50V966.50M496.90 964.50V966.50M502.27 964.50V966.50M506.08 964.50V966.50M509.03 964.50V966.50M511.44 964.50V966.50M513.48 964.50V966.50M515.25 964.50V966.50M516.81 964.50V966.50M526.76 964.50V966.50M531.77 964.50V966.50M535.32 964.50V966.50M538.08 964.50V966.50M540.33 964.50V966.50M542.23 964.50V966.50M543.88 964.50V966.50M545.34 964.50V966.50M555.20 964.50V966.50M487.73 964.50V967.40M518.20 964.50V967.40M546.64 964.50V967.40" stroke="#333" stroke-width="0.85"/>
<rect x="447.00" y="964.70" width="4.40" height="2.2" fill="#1a1a1a" opacity="0.85"/><rect x="457.30" y="964.70" width="2.80" height="2.2" fill="#1a1a1a" opacity="0.85"/>
<text x="500.43" y="863.64" font-size="20.7" >0.1%</text>
<text x="490.82" y="887.16" font-size="20.7" >± 0.2%</text>
<text x="-0.03" y="21.60" font-size="25.5" >A</text>
<text x="76.82" y="25.20" font-size="25.7" >HSC</text>
<text x="207.98" y="25.50" font-size="25.7" >MPP</text>
<text x="335.06" y="25.50" font-size="25.7" >GMLP</text>
<text x="466.34" y="23.30" font-size="25.7" >MyP</text>
<text x="581.10" y="103.30" font-size="25.7" >5</text>
<text x="576.23" y="238.50" font-size="25.7" >10</text>
<text x="576.00" y="373.60" font-size="25.7" >18</text>
<text x="575.40" y="509.50" font-size="25.7" >24</text>
<text x="575.91" y="644.90" font-size="25.7" >56</text>
<text x="585.15" y="910.40" font-size="25.7" >5</text>
<text transform="translate(638.3 285.86) rotate(90)" x="0" y="0" font-size="25.9">Chase (weeks)</text>
<text x="46.12" y="724.60" font-size="27.5" >mCherry</text>
<path d="M170.9 720.4H546" stroke="#000" stroke-width="2.9"/>
<path d="M545 714.5L556.8 720.4L545 726.2Z" fill="#000"/>
<text x="43.75" y="994.70" font-size="25.6" >mCherry</text>
<path d="M163 988.5H538" stroke="#000" stroke-width="2.9"/>
<path d="M537.1 982.8L548.8 988.5L537.1 994.3Z" fill="#000"/>
<text x="-0.07" y="784.60" font-size="25.0" >B</text>
<path d="M44.4 781.7H170.5M430.9 781.8H556.7" stroke="#000" stroke-width="3.8"/>
<text x="202.48" y="788.50" font-size="27.6" >Aged subjects</text>
<text x="74.37" y="830.70" font-size="25.7" >HSC</text>
<text x="205.33" y="831.00" font-size="25.7" >MPP</text>
<text x="323.23" y="830.50" font-size="25.2" >GMLP**</text>
<text x="463.79" y="829.00" font-size="25.7" >MyP</text>
</svg></body></html>
